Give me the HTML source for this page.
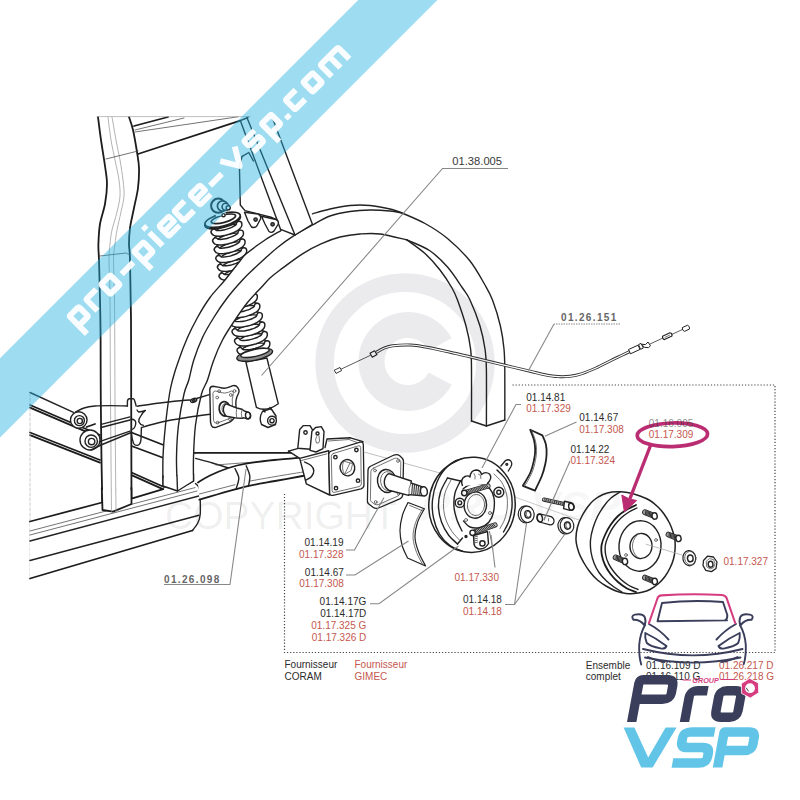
<!DOCTYPE html>
<html>
<head>
<meta charset="utf-8">
<title>01.17.309</title>
<style>
html,body{margin:0;padding:0;background:#fff;}
body{width:800px;height:800px;overflow:hidden;font-family:"Liberation Sans",sans-serif;}
svg{display:block;position:absolute;left:0;top:0;}
text{font-family:"Liberation Sans",sans-serif;}
.k{fill:#2b2b2b;font-size:10px;}
.r{fill:#c4574e;font-size:10px;}
.m{font-weight:bold;font-size:10px;fill:#666;letter-spacing:1.35px;}
.ln{fill:none;stroke:#222;stroke-width:1.4;stroke-linecap:round;stroke-linejoin:round;}
.lt{fill:none;stroke:#444;stroke-width:0.75;stroke-linecap:round;stroke-linejoin:round;}
.lb{fill:none;stroke:#1c1c1c;stroke-width:1.8;stroke-linecap:round;stroke-linejoin:round;}
.ld{fill:none;stroke:#888;stroke-width:1.1;}
.dot{fill:none;stroke:#444;stroke-width:1.2;stroke-dasharray:1.2 1.9;}
.f{fill:#fff;stroke:none;}
.w{fill:#fff;stroke:#222;stroke-width:1.4;stroke-linejoin:round;}
</style>
</head>
<body>
<svg width="800" height="800" viewBox="0 0 800 800">
<rect width="800" height="800" fill="#fff"/>

<!-- DRAWING -->
<g id="drawing">
<path class="ln" d="M30.0 392.5L73.5 412.3"/>
<path class="lb" d="M30.0 405.0L100.0 435.0"/>
<path class="lb" d="M30.0 432.5L100.0 460.0"/>
<path class="lb" d="M30.0 407.6L100.0 437.6"/>
<path class="lb" d="M30.0 435.1L100.0 462.6"/>
<path class="lb" d="M131.5 432.5L166.0 446.0"/>
<path class="lb" d="M131.5 446.0L165.0 458.5"/>
<path class="lb" d="M131.5 472.5L164.0 487.0"/>
<path class="lb" d="M131.5 475.1L164.0 489.6"/>
<path class="lt" d="M30.0 393.0L30.0 578.0" style="stroke:#bbb;stroke-dasharray:3 2"/>
<path class="ln" d="M193.5 452.5L200.0 455.0"/>
<path class="ln" d="M98.0 117.0C98.5 120.8 99.8 131.8 101.0 140.0C102.2 148.2 104.0 158.7 105.0 166.0C106.0 173.3 107.0 177.7 107.0 184.0C107.0 190.3 106.2 197.3 105.0 204.0C103.8 210.7 101.1 217.3 100.0 224.0C98.9 230.7 98.6 238.0 98.4 244.0C98.2 250.0 98.7 250.7 99.0 260.0C99.3 269.3 99.7 286.7 100.0 300.0C100.3 313.3 100.5 323.3 100.6 340.0C100.7 356.7 100.6 380.0 100.8 400.0C101.0 420.0 101.2 441.7 101.5 460.0C101.8 478.3 102.3 501.7 102.5 510.0L131.5 504.0C131.5 498.3 131.5 487.3 131.4 470.0C131.3 452.7 131.3 425.0 131.2 400.0C131.1 375.0 131.2 343.3 131.0 320.0C130.8 296.7 130.3 272.7 130.0 260.0C129.7 247.3 129.0 249.3 129.0 244.0C129.0 238.7 129.2 234.0 130.0 228.0C130.8 222.0 132.7 214.7 134.0 208.0C135.3 201.3 137.2 194.7 138.0 188.0C138.8 181.3 139.2 174.0 139.0 168.0C138.8 162.0 138.0 158.3 137.0 152.0C136.0 145.7 134.3 135.8 133.0 130.0C131.7 124.2 129.7 119.2 129.0 117.0Z" style="fill:#fff;stroke:none"/>
<path class="lb" d="M98.0 117.0C98.5 120.8 99.8 131.8 101.0 140.0C102.2 148.2 104.0 158.7 105.0 166.0C106.0 173.3 107.0 177.7 107.0 184.0C107.0 190.3 106.2 197.3 105.0 204.0C103.8 210.7 101.1 217.3 100.0 224.0C98.9 230.7 98.6 238.0 98.4 244.0C98.2 250.0 98.7 250.7 99.0 260.0C99.3 269.3 99.7 286.7 100.0 300.0C100.3 313.3 100.5 323.3 100.6 340.0C100.7 356.7 100.6 380.0 100.8 400.0C101.0 420.0 101.2 441.7 101.5 460.0C101.8 478.3 102.3 501.7 102.5 510.0"/>
<path class="lb" d="M129.0 117.0C129.7 119.2 131.7 124.2 133.0 130.0C134.3 135.8 136.0 145.7 137.0 152.0C138.0 158.3 138.8 162.0 139.0 168.0C139.2 174.0 138.8 181.3 138.0 188.0C137.2 194.7 135.3 201.3 134.0 208.0C132.7 214.7 130.8 222.0 130.0 228.0C129.2 234.0 129.0 238.7 129.0 244.0C129.0 249.3 129.7 247.3 130.0 260.0C130.3 272.7 130.8 296.7 131.0 320.0C131.2 343.3 131.1 375.0 131.2 400.0C131.3 425.0 131.3 452.7 131.4 470.0C131.5 487.3 131.5 498.3 131.5 504.0"/>
<path class="lt" d="M108.0 117.0C108.5 120.8 109.8 132.8 111.0 140.0C112.2 147.2 113.7 153.3 115.0 160.0C116.3 166.7 118.2 174.0 119.0 180.0C119.8 186.0 120.3 190.7 120.0 196.0C119.7 201.3 118.3 206.3 117.0 212.0C115.7 217.7 113.2 224.7 112.0 230.0C110.8 235.3 110.5 239.0 110.0 244.0C109.5 249.0 109.0 250.7 109.0 260.0C109.0 269.3 109.8 276.7 110.0 300.0C110.2 323.3 110.2 364.7 110.5 400.0C110.8 435.3 111.3 493.3 111.5 512.0" style="stroke:#999"/>
<path class="lt" d="M112.0 117.0C112.7 120.8 114.7 132.8 116.0 140.0C117.3 147.2 118.8 153.3 120.0 160.0C121.2 166.7 122.3 174.0 123.0 180.0C123.7 186.0 124.3 190.7 124.0 196.0C123.7 201.3 122.2 206.3 121.0 212.0C119.8 217.7 118.0 224.7 117.0 230.0C116.0 235.3 115.6 239.0 115.0 244.0C114.4 249.0 113.6 250.7 113.5 260.0C113.4 269.3 114.2 276.7 114.5 300.0C114.8 323.3 114.8 364.8 115.0 400.0C115.2 435.2 115.8 492.5 116.0 511.0" style="stroke:#999"/>
<path class="lt" d="M106.0 159.0L138.0 151.0"/>
<path class="lt" d="M100.0 256.0L126.0 253.0L130.0 255.0"/>
<path class="ln" d="M102.5 510.0L113.0 511.6L131.5 504.0"/>
<path class="lb" d="M134.0 126.0L168.0 117.0"/>
<path class="lt" d="M135.0 132.0L238.0 116.8"/>
<path class="lt" d="M135.0 130.0L184.0 118.0"/>
<path class="lb" d="M138.0 154.0L240.3 120.6"/>
<path class="lt" d="M97.0 116.6L250.0 116.6" style="stroke:#aaa"/>
<path d="M213.9 231.9C213.9 231.7 213.8 231.1 214.0 230.7C214.2 230.3 214.5 229.9 215.0 229.4C215.4 229.0 216.0 228.5 216.7 228.0C217.4 227.6 218.3 227.1 219.2 226.6C220.1 226.2 221.1 225.7 222.1 225.3C223.1 224.9 224.2 224.5 225.3 224.2C226.4 223.8 227.6 223.5 228.6 223.3C229.7 223.1 230.8 222.9 231.8 222.8C232.8 222.6 233.8 222.6 234.6 222.6C235.4 222.6 236.2 222.6 236.8 222.7C237.5 222.9 238.0 223.0 238.4 223.3C238.8 223.5 239.0 224.0 239.1 224.1" fill="none" stroke="#222" stroke-width="4.8" stroke-linecap="round"/><path d="M213.9 231.9C213.9 231.7 213.8 231.1 214.0 230.7C214.2 230.3 214.5 229.9 215.0 229.4C215.4 229.0 216.0 228.5 216.7 228.0C217.4 227.6 218.3 227.1 219.2 226.6C220.1 226.2 221.1 225.7 222.1 225.3C223.1 224.9 224.2 224.5 225.3 224.2C226.4 223.8 227.6 223.5 228.6 223.3C229.7 223.1 230.8 222.9 231.8 222.8C232.8 222.6 233.8 222.6 234.6 222.6C235.4 222.6 236.2 222.6 236.8 222.7C237.5 222.9 238.0 223.0 238.4 223.3C238.8 223.5 239.0 224.0 239.1 224.1" fill="none" stroke="#fff" stroke-width="2" stroke-linecap="round"/>
<path d="M215.5 240.7C215.5 240.5 215.4 239.9 215.6 239.5C215.8 239.1 216.1 238.7 216.6 238.2C217.0 237.8 217.6 237.3 218.3 236.8C219.0 236.4 219.9 235.9 220.8 235.4C221.7 235.0 222.7 234.5 223.7 234.1C224.7 233.7 225.8 233.3 226.9 233.0C228.0 232.6 229.2 232.3 230.2 232.1C231.3 231.9 232.4 231.7 233.4 231.6C234.4 231.4 235.4 231.4 236.2 231.4C237.0 231.4 237.8 231.4 238.4 231.5C239.1 231.7 239.6 231.8 240.0 232.1C240.4 232.3 240.6 232.8 240.7 232.9" fill="none" stroke="#222" stroke-width="4.8" stroke-linecap="round"/><path d="M215.5 240.7C215.5 240.5 215.4 239.9 215.6 239.5C215.8 239.1 216.1 238.7 216.6 238.2C217.0 237.8 217.6 237.3 218.3 236.8C219.0 236.4 219.9 235.9 220.8 235.4C221.7 235.0 222.7 234.5 223.7 234.1C224.7 233.7 225.8 233.3 226.9 233.0C228.0 232.6 229.2 232.3 230.2 232.1C231.3 231.9 232.4 231.7 233.4 231.6C234.4 231.4 235.4 231.4 236.2 231.4C237.0 231.4 237.8 231.4 238.4 231.5C239.1 231.7 239.6 231.8 240.0 232.1C240.4 232.3 240.6 232.8 240.7 232.9" fill="none" stroke="#fff" stroke-width="2" stroke-linecap="round"/>
<path d="M217.1 249.5C217.1 249.3 217.0 248.7 217.2 248.3C217.4 247.9 217.7 247.5 218.2 247.0C218.6 246.6 219.2 246.1 219.9 245.6C220.6 245.2 221.5 244.7 222.4 244.2C223.3 243.8 224.3 243.3 225.3 242.9C226.3 242.5 227.4 242.1 228.5 241.8C229.6 241.4 230.8 241.1 231.8 240.9C232.9 240.7 234.0 240.5 235.0 240.4C236.0 240.2 237.0 240.2 237.8 240.2C238.6 240.2 239.4 240.2 240.0 240.3C240.7 240.5 241.2 240.6 241.6 240.9C242.0 241.1 242.2 241.6 242.3 241.7" fill="none" stroke="#222" stroke-width="4.8" stroke-linecap="round"/><path d="M217.1 249.5C217.1 249.3 217.0 248.7 217.2 248.3C217.4 247.9 217.7 247.5 218.2 247.0C218.6 246.6 219.2 246.1 219.9 245.6C220.6 245.2 221.5 244.7 222.4 244.2C223.3 243.8 224.3 243.3 225.3 242.9C226.3 242.5 227.4 242.1 228.5 241.8C229.6 241.4 230.8 241.1 231.8 240.9C232.9 240.7 234.0 240.5 235.0 240.4C236.0 240.2 237.0 240.2 237.8 240.2C238.6 240.2 239.4 240.2 240.0 240.3C240.7 240.5 241.2 240.6 241.6 240.9C242.0 241.1 242.2 241.6 242.3 241.7" fill="none" stroke="#fff" stroke-width="2" stroke-linecap="round"/>
<path d="M218.7 258.3C218.7 258.1 218.6 257.5 218.8 257.1C219.0 256.7 219.3 256.3 219.8 255.8C220.2 255.4 220.8 254.9 221.5 254.4C222.2 254.0 223.1 253.5 224.0 253.0C224.9 252.6 225.9 252.1 226.9 251.7C227.9 251.3 229.0 250.9 230.1 250.6C231.2 250.2 232.4 249.9 233.4 249.7C234.5 249.5 235.6 249.3 236.6 249.2C237.6 249.0 238.6 249.0 239.4 249.0C240.2 249.0 241.0 249.0 241.6 249.1C242.3 249.3 242.8 249.4 243.2 249.7C243.6 249.9 243.8 250.4 243.9 250.5" fill="none" stroke="#222" stroke-width="4.8" stroke-linecap="round"/><path d="M218.7 258.3C218.7 258.1 218.6 257.5 218.8 257.1C219.0 256.7 219.3 256.3 219.8 255.8C220.2 255.4 220.8 254.9 221.5 254.4C222.2 254.0 223.1 253.5 224.0 253.0C224.9 252.6 225.9 252.1 226.9 251.7C227.9 251.3 229.0 250.9 230.1 250.6C231.2 250.2 232.4 249.9 233.4 249.7C234.5 249.5 235.6 249.3 236.6 249.2C237.6 249.0 238.6 249.0 239.4 249.0C240.2 249.0 241.0 249.0 241.6 249.1C242.3 249.3 242.8 249.4 243.2 249.7C243.6 249.9 243.8 250.4 243.9 250.5" fill="none" stroke="#fff" stroke-width="2" stroke-linecap="round"/>
<path d="M220.3 267.1C220.3 266.9 220.2 266.3 220.4 265.9C220.6 265.5 220.9 265.1 221.4 264.6C221.8 264.2 222.4 263.7 223.1 263.2C223.8 262.8 224.7 262.3 225.6 261.8C226.5 261.4 227.5 260.9 228.5 260.5C229.5 260.1 230.6 259.7 231.7 259.4C232.8 259.0 234.0 258.7 235.0 258.5C236.1 258.3 237.2 258.1 238.2 258.0C239.2 257.8 240.2 257.8 241.0 257.8C241.8 257.8 242.6 257.8 243.2 257.9C243.9 258.1 244.4 258.2 244.8 258.5C245.2 258.7 245.4 259.2 245.5 259.3" fill="none" stroke="#222" stroke-width="4.8" stroke-linecap="round"/><path d="M220.3 267.1C220.3 266.9 220.2 266.3 220.4 265.9C220.6 265.5 220.9 265.1 221.4 264.6C221.8 264.2 222.4 263.7 223.1 263.2C223.8 262.8 224.7 262.3 225.6 261.8C226.5 261.4 227.5 260.9 228.5 260.5C229.5 260.1 230.6 259.7 231.7 259.4C232.8 259.0 234.0 258.7 235.0 258.5C236.1 258.3 237.2 258.1 238.2 258.0C239.2 257.8 240.2 257.8 241.0 257.8C241.8 257.8 242.6 257.8 243.2 257.9C243.9 258.1 244.4 258.2 244.8 258.5C245.2 258.7 245.4 259.2 245.5 259.3" fill="none" stroke="#fff" stroke-width="2" stroke-linecap="round"/>
<path d="M221.9 275.9C221.9 275.7 221.8 275.1 222.0 274.7C222.2 274.3 222.5 273.9 223.0 273.4C223.4 273.0 224.0 272.5 224.7 272.0C225.4 271.6 226.3 271.1 227.2 270.6C228.1 270.2 229.1 269.7 230.1 269.3C231.1 268.9 232.2 268.5 233.3 268.2C234.4 267.8 235.6 267.5 236.6 267.3C237.7 267.1 238.8 266.9 239.8 266.8C240.8 266.6 241.8 266.6 242.6 266.6C243.4 266.6 244.2 266.6 244.8 266.7C245.5 266.9 246.0 267.0 246.4 267.3C246.8 267.5 247.0 268.0 247.1 268.1" fill="none" stroke="#222" stroke-width="4.8" stroke-linecap="round"/><path d="M221.9 275.9C221.9 275.7 221.8 275.1 222.0 274.7C222.2 274.3 222.5 273.9 223.0 273.4C223.4 273.0 224.0 272.5 224.7 272.0C225.4 271.6 226.3 271.1 227.2 270.6C228.1 270.2 229.1 269.7 230.1 269.3C231.1 268.9 232.2 268.5 233.3 268.2C234.4 267.8 235.6 267.5 236.6 267.3C237.7 267.1 238.8 266.9 239.8 266.8C240.8 266.6 241.8 266.6 242.6 266.6C243.4 266.6 244.2 266.6 244.8 266.7C245.5 266.9 246.0 267.0 246.4 267.3C246.8 267.5 247.0 268.0 247.1 268.1" fill="none" stroke="#fff" stroke-width="2" stroke-linecap="round"/>
<path d="M239.1 224.1C239.1 224.3 239.2 224.9 239.0 225.3C238.8 225.7 238.5 226.1 238.0 226.6C237.6 227.0 237.0 227.5 236.3 228.0C235.6 228.4 234.7 228.9 233.8 229.4C232.9 229.8 231.9 230.3 230.9 230.7C229.9 231.1 228.8 231.5 227.7 231.8C226.6 232.2 225.4 232.5 224.4 232.7C223.3 232.9 222.2 233.1 221.2 233.2C220.2 233.4 219.2 233.4 218.4 233.4C217.6 233.4 216.8 233.4 216.2 233.3C215.5 233.1 215.0 233.0 214.6 232.7C214.2 232.5 214.0 232.0 213.9 231.9" fill="none" stroke="#222" stroke-width="7" stroke-linecap="round"/><path d="M239.1 224.1C239.1 224.3 239.2 224.9 239.0 225.3C238.8 225.7 238.5 226.1 238.0 226.6C237.6 227.0 237.0 227.5 236.3 228.0C235.6 228.4 234.7 228.9 233.8 229.4C232.9 229.8 231.9 230.3 230.9 230.7C229.9 231.1 228.8 231.5 227.7 231.8C226.6 232.2 225.4 232.5 224.4 232.7C223.3 232.9 222.2 233.1 221.2 233.2C220.2 233.4 219.2 233.4 218.4 233.4C217.6 233.4 216.8 233.4 216.2 233.3C215.5 233.1 215.0 233.0 214.6 232.7C214.2 232.5 214.0 232.0 213.9 231.9" fill="none" stroke="#fff" stroke-width="4.1" stroke-linecap="round"/>
<path d="M240.7 232.9C240.7 233.1 240.8 233.7 240.6 234.1C240.4 234.5 240.1 234.9 239.6 235.4C239.2 235.8 238.6 236.3 237.9 236.8C237.2 237.2 236.3 237.7 235.4 238.2C234.5 238.6 233.5 239.1 232.5 239.5C231.5 239.9 230.4 240.3 229.3 240.6C228.2 241.0 227.0 241.3 226.0 241.5C224.9 241.7 223.8 241.9 222.8 242.0C221.8 242.2 220.8 242.2 220.0 242.2C219.2 242.2 218.4 242.2 217.8 242.1C217.1 241.9 216.6 241.8 216.2 241.5C215.8 241.3 215.6 240.8 215.5 240.7" fill="none" stroke="#222" stroke-width="7" stroke-linecap="round"/><path d="M240.7 232.9C240.7 233.1 240.8 233.7 240.6 234.1C240.4 234.5 240.1 234.9 239.6 235.4C239.2 235.8 238.6 236.3 237.9 236.8C237.2 237.2 236.3 237.7 235.4 238.2C234.5 238.6 233.5 239.1 232.5 239.5C231.5 239.9 230.4 240.3 229.3 240.6C228.2 241.0 227.0 241.3 226.0 241.5C224.9 241.7 223.8 241.9 222.8 242.0C221.8 242.2 220.8 242.2 220.0 242.2C219.2 242.2 218.4 242.2 217.8 242.1C217.1 241.9 216.6 241.8 216.2 241.5C215.8 241.3 215.6 240.8 215.5 240.7" fill="none" stroke="#fff" stroke-width="4.1" stroke-linecap="round"/>
<path d="M242.3 241.7C242.3 241.9 242.4 242.5 242.2 242.9C242.0 243.3 241.7 243.7 241.2 244.2C240.8 244.6 240.2 245.1 239.5 245.6C238.8 246.0 237.9 246.5 237.0 247.0C236.1 247.4 235.1 247.9 234.1 248.3C233.1 248.7 232.0 249.1 230.9 249.4C229.8 249.8 228.6 250.1 227.6 250.3C226.5 250.5 225.4 250.7 224.4 250.8C223.4 251.0 222.4 251.0 221.6 251.0C220.8 251.0 220.0 251.0 219.4 250.9C218.7 250.7 218.2 250.6 217.8 250.3C217.4 250.1 217.2 249.6 217.1 249.5" fill="none" stroke="#222" stroke-width="7" stroke-linecap="round"/><path d="M242.3 241.7C242.3 241.9 242.4 242.5 242.2 242.9C242.0 243.3 241.7 243.7 241.2 244.2C240.8 244.6 240.2 245.1 239.5 245.6C238.8 246.0 237.9 246.5 237.0 247.0C236.1 247.4 235.1 247.9 234.1 248.3C233.1 248.7 232.0 249.1 230.9 249.4C229.8 249.8 228.6 250.1 227.6 250.3C226.5 250.5 225.4 250.7 224.4 250.8C223.4 251.0 222.4 251.0 221.6 251.0C220.8 251.0 220.0 251.0 219.4 250.9C218.7 250.7 218.2 250.6 217.8 250.3C217.4 250.1 217.2 249.6 217.1 249.5" fill="none" stroke="#fff" stroke-width="4.1" stroke-linecap="round"/>
<path d="M243.9 250.5C243.9 250.7 244.0 251.3 243.8 251.7C243.6 252.1 243.3 252.5 242.8 253.0C242.4 253.4 241.8 253.9 241.1 254.4C240.4 254.8 239.5 255.3 238.6 255.8C237.7 256.2 236.7 256.7 235.7 257.1C234.7 257.5 233.6 257.9 232.5 258.2C231.4 258.6 230.2 258.9 229.2 259.1C228.1 259.3 227.0 259.5 226.0 259.6C225.0 259.8 224.0 259.8 223.2 259.8C222.4 259.8 221.6 259.8 221.0 259.7C220.3 259.5 219.8 259.4 219.4 259.1C219.0 258.9 218.8 258.4 218.7 258.3" fill="none" stroke="#222" stroke-width="7" stroke-linecap="round"/><path d="M243.9 250.5C243.9 250.7 244.0 251.3 243.8 251.7C243.6 252.1 243.3 252.5 242.8 253.0C242.4 253.4 241.8 253.9 241.1 254.4C240.4 254.8 239.5 255.3 238.6 255.8C237.7 256.2 236.7 256.7 235.7 257.1C234.7 257.5 233.6 257.9 232.5 258.2C231.4 258.6 230.2 258.9 229.2 259.1C228.1 259.3 227.0 259.5 226.0 259.6C225.0 259.8 224.0 259.8 223.2 259.8C222.4 259.8 221.6 259.8 221.0 259.7C220.3 259.5 219.8 259.4 219.4 259.1C219.0 258.9 218.8 258.4 218.7 258.3" fill="none" stroke="#fff" stroke-width="4.1" stroke-linecap="round"/>
<path d="M245.5 259.3C245.5 259.5 245.6 260.1 245.4 260.5C245.2 260.9 244.9 261.3 244.4 261.8C244.0 262.2 243.4 262.7 242.7 263.2C242.0 263.6 241.1 264.1 240.2 264.6C239.3 265.0 238.3 265.5 237.3 265.9C236.3 266.3 235.2 266.7 234.1 267.0C233.0 267.4 231.8 267.7 230.8 267.9C229.7 268.1 228.6 268.3 227.6 268.4C226.6 268.6 225.6 268.6 224.8 268.6C224.0 268.6 223.2 268.6 222.6 268.5C221.9 268.3 221.4 268.2 221.0 267.9C220.6 267.7 220.4 267.2 220.3 267.1" fill="none" stroke="#222" stroke-width="7" stroke-linecap="round"/><path d="M245.5 259.3C245.5 259.5 245.6 260.1 245.4 260.5C245.2 260.9 244.9 261.3 244.4 261.8C244.0 262.2 243.4 262.7 242.7 263.2C242.0 263.6 241.1 264.1 240.2 264.6C239.3 265.0 238.3 265.5 237.3 265.9C236.3 266.3 235.2 266.7 234.1 267.0C233.0 267.4 231.8 267.7 230.8 267.9C229.7 268.1 228.6 268.3 227.6 268.4C226.6 268.6 225.6 268.6 224.8 268.6C224.0 268.6 223.2 268.6 222.6 268.5C221.9 268.3 221.4 268.2 221.0 267.9C220.6 267.7 220.4 267.2 220.3 267.1" fill="none" stroke="#fff" stroke-width="4.1" stroke-linecap="round"/>
<path d="M247.1 268.1C247.1 268.3 247.2 268.9 247.0 269.3C246.8 269.7 246.5 270.1 246.0 270.6C245.6 271.0 245.0 271.5 244.3 272.0C243.6 272.4 242.7 272.9 241.8 273.4C240.9 273.8 239.9 274.3 238.9 274.7C237.9 275.1 236.8 275.5 235.7 275.8C234.6 276.2 233.4 276.5 232.4 276.7C231.3 276.9 230.2 277.1 229.2 277.2C228.2 277.4 227.2 277.4 226.4 277.4C225.6 277.4 224.8 277.4 224.2 277.3C223.5 277.1 223.0 277.0 222.6 276.7C222.2 276.5 222.0 276.0 221.9 275.9" fill="none" stroke="#222" stroke-width="7" stroke-linecap="round"/><path d="M247.1 268.1C247.1 268.3 247.2 268.9 247.0 269.3C246.8 269.7 246.5 270.1 246.0 270.6C245.6 271.0 245.0 271.5 244.3 272.0C243.6 272.4 242.7 272.9 241.8 273.4C240.9 273.8 239.9 274.3 238.9 274.7C237.9 275.1 236.8 275.5 235.7 275.8C234.6 276.2 233.4 276.5 232.4 276.7C231.3 276.9 230.2 277.1 229.2 277.2C228.2 277.4 227.2 277.4 226.4 277.4C225.6 277.4 224.8 277.4 224.2 277.3C223.5 277.1 223.0 277.0 222.6 276.7C222.2 276.5 222.0 276.0 221.9 275.9" fill="none" stroke="#fff" stroke-width="4.1" stroke-linecap="round"/>
<ellipse class="w" cx="222.6" cy="221" rx="18.2" ry="6.3" transform="rotate(-15 222.6 221)" style="stroke-width:2"/>
<ellipse class="w" cx="222.6" cy="219.8" rx="18.2" ry="6.2" transform="rotate(-15 222.6 219.8)" style="stroke-width:1.7"/>
<ellipse class="ln" cx="223.4" cy="218.8" rx="12.6" ry="3.7" transform="rotate(-15 223.4 218.8)" style="stroke-width:1.6"/>
<path class="w" d="M214.5 209 L216 216.5 L226 214.5 L224.5 209Z" style="stroke:none"/>
<circle class="w" cx="218.2" cy="205.7" r="7.1" style="stroke-width:2"/>
<circle class="w" cx="222.6" cy="206" r="5.2" style="stroke-width:1.7"/>
<circle class="w" cx="225.6" cy="206.8" r="3.5" style="stroke-width:1.6"/>
<circle class="w" cx="228.2" cy="207.8" r="2.1" style="stroke-width:1.4"/>
<circle class="w" cx="223.5" cy="215.2" r="1.6"/>
<path d="M227.4 303.4C227.4 303.2 227.4 302.6 227.6 302.1C227.8 301.7 228.2 301.2 228.7 300.7C229.2 300.2 229.8 299.7 230.6 299.2C231.4 298.8 232.3 298.3 233.2 297.8C234.2 297.4 235.3 296.9 236.4 296.6C237.5 296.2 238.7 295.8 239.9 295.5C241.1 295.2 242.3 295.0 243.4 294.8C244.6 294.6 245.8 294.5 246.8 294.4C247.9 294.4 248.9 294.4 249.8 294.4C250.7 294.5 251.5 294.6 252.2 294.8C252.9 295.0 253.4 295.3 253.8 295.6C254.2 295.9 254.5 296.4 254.6 296.6" fill="none" stroke="#222" stroke-width="4.8" stroke-linecap="round"/><path d="M227.4 303.4C227.4 303.2 227.4 302.6 227.6 302.1C227.8 301.7 228.2 301.2 228.7 300.7C229.2 300.2 229.8 299.7 230.6 299.2C231.4 298.8 232.3 298.3 233.2 297.8C234.2 297.4 235.3 296.9 236.4 296.6C237.5 296.2 238.7 295.8 239.9 295.5C241.1 295.2 242.3 295.0 243.4 294.8C244.6 294.6 245.8 294.5 246.8 294.4C247.9 294.4 248.9 294.4 249.8 294.4C250.7 294.5 251.5 294.6 252.2 294.8C252.9 295.0 253.4 295.3 253.8 295.6C254.2 295.9 254.5 296.4 254.6 296.6" fill="none" stroke="#fff" stroke-width="2" stroke-linecap="round"/>
<path d="M229.9 312.8C229.9 312.6 229.9 312.0 230.1 311.5C230.3 311.1 230.7 310.6 231.2 310.1C231.7 309.6 232.3 309.1 233.1 308.6C233.9 308.2 234.8 307.7 235.7 307.2C236.7 306.8 237.8 306.3 238.9 306.0C240.0 305.6 241.2 305.2 242.4 304.9C243.6 304.6 244.8 304.4 245.9 304.2C247.1 304.0 248.3 303.9 249.3 303.8C250.4 303.8 251.4 303.8 252.3 303.8C253.2 303.9 254.0 304.0 254.7 304.2C255.4 304.4 255.9 304.7 256.3 305.0C256.7 305.3 257.0 305.8 257.1 306.0" fill="none" stroke="#222" stroke-width="4.8" stroke-linecap="round"/><path d="M229.9 312.8C229.9 312.6 229.9 312.0 230.1 311.5C230.3 311.1 230.7 310.6 231.2 310.1C231.7 309.6 232.3 309.1 233.1 308.6C233.9 308.2 234.8 307.7 235.7 307.2C236.7 306.8 237.8 306.3 238.9 306.0C240.0 305.6 241.2 305.2 242.4 304.9C243.6 304.6 244.8 304.4 245.9 304.2C247.1 304.0 248.3 303.9 249.3 303.8C250.4 303.8 251.4 303.8 252.3 303.8C253.2 303.9 254.0 304.0 254.7 304.2C255.4 304.4 255.9 304.7 256.3 305.0C256.7 305.3 257.0 305.8 257.1 306.0" fill="none" stroke="#fff" stroke-width="2" stroke-linecap="round"/>
<path d="M232.4 322.2C232.4 322.0 232.4 321.4 232.6 320.9C232.8 320.5 233.2 320.0 233.7 319.5C234.2 319.0 234.8 318.5 235.6 318.0C236.4 317.6 237.3 317.1 238.2 316.6C239.2 316.2 240.3 315.7 241.4 315.4C242.5 315.0 243.7 314.6 244.9 314.3C246.1 314.0 247.3 313.8 248.4 313.6C249.6 313.4 250.8 313.3 251.8 313.2C252.9 313.2 253.9 313.2 254.8 313.2C255.7 313.3 256.5 313.4 257.2 313.6C257.9 313.8 258.4 314.1 258.8 314.4C259.2 314.7 259.5 315.2 259.6 315.4" fill="none" stroke="#222" stroke-width="4.8" stroke-linecap="round"/><path d="M232.4 322.2C232.4 322.0 232.4 321.4 232.6 320.9C232.8 320.5 233.2 320.0 233.7 319.5C234.2 319.0 234.8 318.5 235.6 318.0C236.4 317.6 237.3 317.1 238.2 316.6C239.2 316.2 240.3 315.7 241.4 315.4C242.5 315.0 243.7 314.6 244.9 314.3C246.1 314.0 247.3 313.8 248.4 313.6C249.6 313.4 250.8 313.3 251.8 313.2C252.9 313.2 253.9 313.2 254.8 313.2C255.7 313.3 256.5 313.4 257.2 313.6C257.9 313.8 258.4 314.1 258.8 314.4C259.2 314.7 259.5 315.2 259.6 315.4" fill="none" stroke="#fff" stroke-width="2" stroke-linecap="round"/>
<path d="M234.9 331.6C234.9 331.4 234.9 330.8 235.1 330.3C235.3 329.9 235.7 329.4 236.2 328.9C236.7 328.4 237.3 327.9 238.1 327.4C238.9 327.0 239.8 326.5 240.7 326.0C241.7 325.6 242.8 325.1 243.9 324.8C245.0 324.4 246.2 324.0 247.4 323.7C248.6 323.4 249.8 323.2 250.9 323.0C252.1 322.8 253.3 322.7 254.3 322.6C255.4 322.6 256.4 322.6 257.3 322.6C258.2 322.7 259.0 322.8 259.7 323.0C260.4 323.2 260.9 323.5 261.3 323.8C261.7 324.1 262.0 324.6 262.1 324.8" fill="none" stroke="#222" stroke-width="4.8" stroke-linecap="round"/><path d="M234.9 331.6C234.9 331.4 234.9 330.8 235.1 330.3C235.3 329.9 235.7 329.4 236.2 328.9C236.7 328.4 237.3 327.9 238.1 327.4C238.9 327.0 239.8 326.5 240.7 326.0C241.7 325.6 242.8 325.1 243.9 324.8C245.0 324.4 246.2 324.0 247.4 323.7C248.6 323.4 249.8 323.2 250.9 323.0C252.1 322.8 253.3 322.7 254.3 322.6C255.4 322.6 256.4 322.6 257.3 322.6C258.2 322.7 259.0 322.8 259.7 323.0C260.4 323.2 260.9 323.5 261.3 323.8C261.7 324.1 262.0 324.6 262.1 324.8" fill="none" stroke="#fff" stroke-width="2" stroke-linecap="round"/>
<path d="M237.4 341.0C237.4 340.8 237.4 340.2 237.6 339.7C237.8 339.3 238.2 338.8 238.7 338.3C239.2 337.8 239.8 337.3 240.6 336.8C241.4 336.4 242.3 335.9 243.2 335.4C244.2 335.0 245.3 334.5 246.4 334.2C247.5 333.8 248.7 333.4 249.9 333.1C251.1 332.8 252.3 332.6 253.4 332.4C254.6 332.2 255.8 332.1 256.8 332.0C257.9 332.0 258.9 332.0 259.8 332.0C260.7 332.1 261.5 332.2 262.2 332.4C262.9 332.6 263.4 332.9 263.8 333.2C264.2 333.5 264.5 334.0 264.6 334.2" fill="none" stroke="#222" stroke-width="4.8" stroke-linecap="round"/><path d="M237.4 341.0C237.4 340.8 237.4 340.2 237.6 339.7C237.8 339.3 238.2 338.8 238.7 338.3C239.2 337.8 239.8 337.3 240.6 336.8C241.4 336.4 242.3 335.9 243.2 335.4C244.2 335.0 245.3 334.5 246.4 334.2C247.5 333.8 248.7 333.4 249.9 333.1C251.1 332.8 252.3 332.6 253.4 332.4C254.6 332.2 255.8 332.1 256.8 332.0C257.9 332.0 258.9 332.0 259.8 332.0C260.7 332.1 261.5 332.2 262.2 332.4C262.9 332.6 263.4 332.9 263.8 333.2C264.2 333.5 264.5 334.0 264.6 334.2" fill="none" stroke="#fff" stroke-width="2" stroke-linecap="round"/>
<path d="M239.9 350.4C239.9 350.2 239.9 349.6 240.1 349.1C240.3 348.7 240.7 348.2 241.2 347.7C241.7 347.2 242.3 346.7 243.1 346.2C243.9 345.8 244.8 345.3 245.7 344.8C246.7 344.4 247.8 343.9 248.9 343.6C250.0 343.2 251.2 342.8 252.4 342.5C253.6 342.2 254.8 342.0 255.9 341.8C257.1 341.6 258.3 341.5 259.3 341.4C260.4 341.4 261.4 341.4 262.3 341.4C263.2 341.5 264.0 341.6 264.7 341.8C265.4 342.0 265.9 342.3 266.3 342.6C266.7 342.9 267.0 343.4 267.1 343.6" fill="none" stroke="#222" stroke-width="4.8" stroke-linecap="round"/><path d="M239.9 350.4C239.9 350.2 239.9 349.6 240.1 349.1C240.3 348.7 240.7 348.2 241.2 347.7C241.7 347.2 242.3 346.7 243.1 346.2C243.9 345.8 244.8 345.3 245.7 344.8C246.7 344.4 247.8 343.9 248.9 343.6C250.0 343.2 251.2 342.8 252.4 342.5C253.6 342.2 254.8 342.0 255.9 341.8C257.1 341.6 258.3 341.5 259.3 341.4C260.4 341.4 261.4 341.4 262.3 341.4C263.2 341.5 264.0 341.6 264.7 341.8C265.4 342.0 265.9 342.3 266.3 342.6C266.7 342.9 267.0 343.4 267.1 343.6" fill="none" stroke="#fff" stroke-width="2" stroke-linecap="round"/>
<path d="M254.6 296.6C254.6 296.8 254.6 297.4 254.4 297.9C254.2 298.3 253.8 298.8 253.3 299.3C252.8 299.8 252.2 300.3 251.4 300.8C250.6 301.2 249.7 301.7 248.8 302.2C247.8 302.6 246.7 303.1 245.6 303.4C244.5 303.8 243.3 304.2 242.1 304.5C240.9 304.8 239.7 305.0 238.6 305.2C237.4 305.4 236.2 305.5 235.2 305.6C234.1 305.6 233.1 305.6 232.2 305.6C231.3 305.5 230.5 305.4 229.8 305.2C229.1 305.0 228.6 304.7 228.2 304.4C227.8 304.1 227.5 303.6 227.4 303.4" fill="none" stroke="#222" stroke-width="7" stroke-linecap="round"/><path d="M254.6 296.6C254.6 296.8 254.6 297.4 254.4 297.9C254.2 298.3 253.8 298.8 253.3 299.3C252.8 299.8 252.2 300.3 251.4 300.8C250.6 301.2 249.7 301.7 248.8 302.2C247.8 302.6 246.7 303.1 245.6 303.4C244.5 303.8 243.3 304.2 242.1 304.5C240.9 304.8 239.7 305.0 238.6 305.2C237.4 305.4 236.2 305.5 235.2 305.6C234.1 305.6 233.1 305.6 232.2 305.6C231.3 305.5 230.5 305.4 229.8 305.2C229.1 305.0 228.6 304.7 228.2 304.4C227.8 304.1 227.5 303.6 227.4 303.4" fill="none" stroke="#fff" stroke-width="4.1" stroke-linecap="round"/>
<path d="M257.1 306.0C257.1 306.2 257.1 306.8 256.9 307.3C256.7 307.7 256.3 308.2 255.8 308.7C255.3 309.2 254.7 309.7 253.9 310.2C253.1 310.6 252.2 311.1 251.3 311.6C250.3 312.0 249.2 312.5 248.1 312.8C247.0 313.2 245.8 313.6 244.6 313.9C243.4 314.2 242.2 314.4 241.1 314.6C239.9 314.8 238.7 314.9 237.7 315.0C236.6 315.0 235.6 315.0 234.7 315.0C233.8 314.9 233.0 314.8 232.3 314.6C231.6 314.4 231.1 314.1 230.7 313.8C230.3 313.5 230.0 313.0 229.9 312.8" fill="none" stroke="#222" stroke-width="7" stroke-linecap="round"/><path d="M257.1 306.0C257.1 306.2 257.1 306.8 256.9 307.3C256.7 307.7 256.3 308.2 255.8 308.7C255.3 309.2 254.7 309.7 253.9 310.2C253.1 310.6 252.2 311.1 251.3 311.6C250.3 312.0 249.2 312.5 248.1 312.8C247.0 313.2 245.8 313.6 244.6 313.9C243.4 314.2 242.2 314.4 241.1 314.6C239.9 314.8 238.7 314.9 237.7 315.0C236.6 315.0 235.6 315.0 234.7 315.0C233.8 314.9 233.0 314.8 232.3 314.6C231.6 314.4 231.1 314.1 230.7 313.8C230.3 313.5 230.0 313.0 229.9 312.8" fill="none" stroke="#fff" stroke-width="4.1" stroke-linecap="round"/>
<path d="M259.6 315.4C259.6 315.6 259.6 316.2 259.4 316.7C259.2 317.1 258.8 317.6 258.3 318.1C257.8 318.6 257.2 319.1 256.4 319.6C255.6 320.0 254.7 320.5 253.8 321.0C252.8 321.4 251.7 321.9 250.6 322.2C249.5 322.6 248.3 323.0 247.1 323.3C245.9 323.6 244.7 323.8 243.6 324.0C242.4 324.2 241.2 324.3 240.2 324.4C239.1 324.4 238.1 324.4 237.2 324.4C236.3 324.3 235.5 324.2 234.8 324.0C234.1 323.8 233.6 323.5 233.2 323.2C232.8 322.9 232.5 322.4 232.4 322.2" fill="none" stroke="#222" stroke-width="7" stroke-linecap="round"/><path d="M259.6 315.4C259.6 315.6 259.6 316.2 259.4 316.7C259.2 317.1 258.8 317.6 258.3 318.1C257.8 318.6 257.2 319.1 256.4 319.6C255.6 320.0 254.7 320.5 253.8 321.0C252.8 321.4 251.7 321.9 250.6 322.2C249.5 322.6 248.3 323.0 247.1 323.3C245.9 323.6 244.7 323.8 243.6 324.0C242.4 324.2 241.2 324.3 240.2 324.4C239.1 324.4 238.1 324.4 237.2 324.4C236.3 324.3 235.5 324.2 234.8 324.0C234.1 323.8 233.6 323.5 233.2 323.2C232.8 322.9 232.5 322.4 232.4 322.2" fill="none" stroke="#fff" stroke-width="4.1" stroke-linecap="round"/>
<path d="M262.1 324.8C262.1 325.0 262.1 325.6 261.9 326.1C261.7 326.5 261.3 327.0 260.8 327.5C260.3 328.0 259.7 328.5 258.9 329.0C258.1 329.4 257.2 329.9 256.3 330.4C255.3 330.8 254.2 331.3 253.1 331.6C252.0 332.0 250.8 332.4 249.6 332.7C248.4 333.0 247.2 333.2 246.1 333.4C244.9 333.6 243.7 333.7 242.7 333.8C241.6 333.8 240.6 333.8 239.7 333.8C238.8 333.7 238.0 333.6 237.3 333.4C236.6 333.2 236.1 332.9 235.7 332.6C235.3 332.3 235.0 331.8 234.9 331.6" fill="none" stroke="#222" stroke-width="7" stroke-linecap="round"/><path d="M262.1 324.8C262.1 325.0 262.1 325.6 261.9 326.1C261.7 326.5 261.3 327.0 260.8 327.5C260.3 328.0 259.7 328.5 258.9 329.0C258.1 329.4 257.2 329.9 256.3 330.4C255.3 330.8 254.2 331.3 253.1 331.6C252.0 332.0 250.8 332.4 249.6 332.7C248.4 333.0 247.2 333.2 246.1 333.4C244.9 333.6 243.7 333.7 242.7 333.8C241.6 333.8 240.6 333.8 239.7 333.8C238.8 333.7 238.0 333.6 237.3 333.4C236.6 333.2 236.1 332.9 235.7 332.6C235.3 332.3 235.0 331.8 234.9 331.6" fill="none" stroke="#fff" stroke-width="4.1" stroke-linecap="round"/>
<path d="M264.6 334.2C264.6 334.4 264.6 335.0 264.4 335.5C264.2 335.9 263.8 336.4 263.3 336.9C262.8 337.4 262.2 337.9 261.4 338.4C260.6 338.8 259.7 339.3 258.8 339.8C257.8 340.2 256.7 340.7 255.6 341.0C254.5 341.4 253.3 341.8 252.1 342.1C250.9 342.4 249.7 342.6 248.6 342.8C247.4 343.0 246.2 343.1 245.2 343.2C244.1 343.2 243.1 343.2 242.2 343.2C241.3 343.1 240.5 343.0 239.8 342.8C239.1 342.6 238.6 342.3 238.2 342.0C237.8 341.7 237.5 341.2 237.4 341.0" fill="none" stroke="#222" stroke-width="7" stroke-linecap="round"/><path d="M264.6 334.2C264.6 334.4 264.6 335.0 264.4 335.5C264.2 335.9 263.8 336.4 263.3 336.9C262.8 337.4 262.2 337.9 261.4 338.4C260.6 338.8 259.7 339.3 258.8 339.8C257.8 340.2 256.7 340.7 255.6 341.0C254.5 341.4 253.3 341.8 252.1 342.1C250.9 342.4 249.7 342.6 248.6 342.8C247.4 343.0 246.2 343.1 245.2 343.2C244.1 343.2 243.1 343.2 242.2 343.2C241.3 343.1 240.5 343.0 239.8 342.8C239.1 342.6 238.6 342.3 238.2 342.0C237.8 341.7 237.5 341.2 237.4 341.0" fill="none" stroke="#fff" stroke-width="4.1" stroke-linecap="round"/>
<path d="M267.1 343.6C267.1 343.8 267.1 344.4 266.9 344.9C266.7 345.3 266.3 345.8 265.8 346.3C265.3 346.8 264.7 347.3 263.9 347.8C263.1 348.2 262.2 348.7 261.3 349.2C260.3 349.6 259.2 350.1 258.1 350.4C257.0 350.8 255.8 351.2 254.6 351.5C253.4 351.8 252.2 352.0 251.1 352.2C249.9 352.4 248.7 352.5 247.7 352.6C246.6 352.6 245.6 352.6 244.7 352.6C243.8 352.5 243.0 352.4 242.3 352.2C241.6 352.0 241.1 351.7 240.7 351.4C240.3 351.1 240.0 350.6 239.9 350.4" fill="none" stroke="#222" stroke-width="7" stroke-linecap="round"/><path d="M267.1 343.6C267.1 343.8 267.1 344.4 266.9 344.9C266.7 345.3 266.3 345.8 265.8 346.3C265.3 346.8 264.7 347.3 263.9 347.8C263.1 348.2 262.2 348.7 261.3 349.2C260.3 349.6 259.2 350.1 258.1 350.4C257.0 350.8 255.8 351.2 254.6 351.5C253.4 351.8 252.2 352.0 251.1 352.2C249.9 352.4 248.7 352.5 247.7 352.6C246.6 352.6 245.6 352.6 244.7 352.6C243.8 352.5 243.0 352.4 242.3 352.2C241.6 352.0 241.1 351.7 240.7 351.4C240.3 351.1 240.0 350.6 239.9 350.4" fill="none" stroke="#fff" stroke-width="4.1" stroke-linecap="round"/>
<path class="w" d="M245.9 362 L256.4 407.3 Q266 412.5 278.3 403.8 L266.9 358 Z"/>
<ellipse class="ln" cx="254.7" cy="354.8" rx="18.2" ry="5.4" transform="rotate(-12 254.7 354.8)" style="fill:#8e8e8e;stroke-width:1.4"/>
<ellipse class="ln" cx="255" cy="352.9" rx="14.6" ry="3.5" transform="rotate(-12 255 352.9)" style="fill:#fff"/>
<path class="w" d="M262.5 411.5 L271 408.5 L276 416 L275.5 424.5 L268 427.5 L261.5 424.5 Q258.5 418 262.5 411.5Z"/>
<circle class="w" cx="272" cy="420.7" r="4.4"/>
<circle class="ln" cx="272" cy="420.7" r="2.1"/>
<path class="ln" d="M263.0 409.5L265.0 412.0"/>
<path class="ln" d="M270.0 407.5L271.0 409.5"/>
<path class="ln" d="M163.0 486.0C163.0 481.2 162.6 467.2 163.0 457.0C163.4 446.8 164.4 435.5 165.5 425.0C166.6 414.5 168.3 401.5 169.5 394.0C170.7 386.5 171.0 385.7 172.5 380.0C174.0 374.3 176.2 367.1 178.8 360.0C181.2 352.9 184.4 344.6 187.5 337.5C190.6 330.4 193.8 324.2 197.5 317.5C201.2 310.8 205.4 303.8 210.0 297.5C214.6 291.2 220.0 286.1 225.0 280.0C230.0 273.9 236.5 265.3 240.0 261.0C243.5 256.7 241.8 257.5 246.0 254.0C250.2 250.5 259.2 243.9 265.0 240.0C270.8 236.1 278.3 232.2 281.0 230.6L312.5 213.8C315.4 213.0 323.8 210.4 330.0 209.0C336.2 207.6 343.3 206.1 350.0 205.5C356.7 204.9 363.3 204.9 370.0 205.5C376.7 206.1 385.1 207.9 390.0 209.0C394.9 210.1 393.7 209.6 399.5 212.0C405.3 214.4 417.0 219.1 425.0 223.5C433.0 227.9 440.0 232.2 447.5 238.5C455.0 244.8 463.8 253.2 470.0 261.0C476.2 268.8 481.2 278.5 485.0 285.0C488.8 291.5 489.9 293.2 492.5 300.0C495.1 306.8 498.5 317.8 500.4 326.0C502.3 334.2 503.3 341.7 504.0 349.0C504.7 356.3 504.7 358.2 504.8 370.0C504.9 381.8 504.8 411.7 504.8 420.0L486.4 426.0L471.5 421.0L471.5 421.0C471.5 412.5 471.6 382.0 471.5 370.0C471.4 358.0 471.5 356.3 470.6 349.0C469.7 341.7 468.2 334.2 466.0 326.0C463.8 317.8 459.8 306.3 457.5 300.0C455.2 293.7 454.9 293.0 452.0 288.0C449.1 283.0 444.5 275.8 440.0 270.0C435.5 264.2 430.5 258.5 425.0 253.5C419.5 248.5 410.0 242.2 407.0 240.0L407.0 240.0C402.5 239.0 387.8 235.0 380.0 234.0C372.2 233.0 366.7 233.5 360.0 234.0C353.3 234.5 346.5 235.4 340.0 237.0C333.5 238.6 327.2 241.0 321.0 243.8C314.8 246.5 309.3 249.4 302.5 253.8C295.7 258.1 285.4 266.0 280.0 270.0C274.6 274.0 273.3 274.9 270.0 278.0C266.7 281.1 263.8 284.7 260.0 288.8C256.2 292.8 251.7 297.3 247.5 302.5C243.3 307.7 239.2 313.8 235.0 320.0C230.8 326.2 226.0 333.3 222.5 340.0C219.0 346.7 216.2 353.3 213.8 360.0C211.2 366.7 209.5 374.3 207.5 380.0C205.5 385.7 203.5 386.5 201.5 394.0C199.5 401.5 196.8 414.5 195.5 425.0C194.2 435.5 193.8 447.7 193.5 457.0C193.2 466.3 193.5 477.0 193.5 481.0Z" style="fill:#fff;stroke:none"/>
<path class="ln" d="M163.0 486.0C163.0 481.2 162.6 467.2 163.0 457.0C163.4 446.8 164.4 435.5 165.5 425.0C166.6 414.5 168.3 401.5 169.5 394.0C170.7 386.5 171.0 385.7 172.5 380.0C174.0 374.3 176.2 367.1 178.8 360.0C181.2 352.9 184.4 344.6 187.5 337.5C190.6 330.4 193.8 324.2 197.5 317.5C201.2 310.8 205.4 303.8 210.0 297.5C214.6 291.2 220.0 286.1 225.0 280.0C230.0 273.9 236.5 265.3 240.0 261.0C243.5 256.7 241.8 257.5 246.0 254.0C250.2 250.5 259.2 243.9 265.0 240.0C270.8 236.1 278.3 232.2 281.0 230.6"/>
<path class="ln" d="M312.5 213.8C315.4 213.0 323.8 210.4 330.0 209.0C336.2 207.6 343.3 206.1 350.0 205.5C356.7 204.9 363.3 204.9 370.0 205.5C376.7 206.1 385.1 207.9 390.0 209.0C394.9 210.1 393.7 209.6 399.5 212.0C405.3 214.4 417.0 219.1 425.0 223.5C433.0 227.9 440.0 232.2 447.5 238.5C455.0 244.8 463.8 253.2 470.0 261.0C476.2 268.8 481.2 278.5 485.0 285.0C488.8 291.5 489.9 293.2 492.5 300.0C495.1 306.8 498.5 317.8 500.4 326.0C502.3 334.2 503.3 341.7 504.0 349.0C504.7 356.3 504.7 358.2 504.8 370.0C504.9 381.8 504.8 411.7 504.8 420.0"/>
<path class="ln" d="M177.5 491.0C177.3 485.3 176.3 468.0 176.5 457.0C176.7 446.0 177.2 435.5 178.5 425.0C179.8 414.5 182.3 401.5 184.0 394.0C185.7 386.5 187.1 385.7 188.8 380.0C190.4 374.3 191.5 367.1 193.8 360.0C196.0 352.9 199.2 344.6 202.5 337.5C205.8 330.4 209.6 324.2 213.8 317.5C217.9 310.8 222.7 303.8 227.5 297.5C232.3 291.2 238.3 284.6 242.5 280.0C246.7 275.4 246.7 275.4 252.5 270.0C258.3 264.6 270.4 253.3 277.5 247.5C284.6 241.7 289.2 238.8 295.0 235.0C300.8 231.2 306.7 228.2 312.5 225.0C318.3 221.8 323.8 218.2 330.0 216.0C336.2 213.8 343.3 212.5 350.0 211.5C356.7 210.5 363.3 210.1 370.0 210.0C376.7 209.9 384.7 210.5 390.0 211.0C395.3 211.5 400.0 212.7 402.0 213.0"/>
<path class="ln" d="M193.5 481.0C193.5 477.0 193.2 466.3 193.5 457.0C193.8 447.7 194.2 435.5 195.5 425.0C196.8 414.5 199.5 401.5 201.5 394.0C203.5 386.5 205.5 385.7 207.5 380.0C209.5 374.3 211.2 366.7 213.8 360.0C216.2 353.3 219.0 346.7 222.5 340.0C226.0 333.3 230.8 326.2 235.0 320.0C239.2 313.8 243.3 307.7 247.5 302.5C251.7 297.3 256.2 292.8 260.0 288.8C263.8 284.7 266.7 281.1 270.0 278.0C273.3 274.9 274.6 274.0 280.0 270.0C285.4 266.0 295.7 258.1 302.5 253.8C309.3 249.4 314.8 246.5 321.0 243.8C327.2 241.0 333.5 238.6 340.0 237.0C346.5 235.4 353.3 234.5 360.0 234.0C366.7 233.5 372.2 233.0 380.0 234.0C387.8 235.0 402.5 239.0 407.0 240.0"/>
<path class="ln" d="M407.0 240.0C410.8 241.8 422.8 246.0 429.5 250.5C436.2 255.0 442.0 260.8 447.5 267.0C453.0 273.2 458.8 282.5 462.5 288.0C466.2 293.5 467.1 293.7 470.0 300.0C472.9 306.3 477.5 317.8 480.0 326.0C482.5 334.2 483.9 341.7 485.0 349.0C486.1 356.3 486.2 357.2 486.4 370.0C486.6 382.8 486.4 416.7 486.4 426.0"/>
<path class="ln" d="M407.0 240.0C410.0 242.2 419.5 248.5 425.0 253.5C430.5 258.5 435.5 264.2 440.0 270.0C444.5 275.8 449.1 283.0 452.0 288.0C454.9 293.0 455.2 293.7 457.5 300.0C459.8 306.3 463.8 317.8 466.0 326.0C468.2 334.2 469.7 341.7 470.6 349.0C471.5 356.3 471.4 358.0 471.5 370.0C471.6 382.0 471.5 412.5 471.5 421.0"/>
<path class="ln" d="M471.5 421.0L486.4 426.0L504.8 420.0"/>
<path class="ln" d="M163.0 486.0L177.5 491.0L193.5 481.0"/>
<path class="ln" d="M240.3 120.6 L248 117.3 L272 117.3 L312.5 224.4 L295 235 L280.6 229.4 Z" style="fill:#fff;stroke:none"/>
<path class="ln" d="M240.3 120.6L280.6 229.4L295.0 235.0L312.5 224.4L272.5 118.0"/>
<path class="ln" d="M240.3 120.6L248.0 117.5"/>
<path class="ln" d="M247.0 117.8L295.0 235.0"/>
<path class="ln" d="M242.2 156.3L248.8 152.5L253.4 161.0"/>
<path class="ln" d="M242.2 156.3L239.4 165.6L240.3 205.0L245.0 210.6L271.0 217.2L277.0 220.0"/>
<path class="w" d="M244.5 212.3 L258 214 Q261.5 215.5 260.5 219 L256.8 226 Q254.5 228.5 251.5 227 L248 221 Z"/>
<circle class="ln" cx="255.6" cy="219.6" r="1.7" style="fill:#666"/>
<path class="w" d="M261.5 216.3 L276 219.5 Q279.5 221 278 224.5 L274 231 Q271.5 233.5 269 231.5 L265 224 Z"/>
<circle class="ln" cx="272.6" cy="224.3" r="1.7" style="fill:#666"/>
<circle class="w" cx="78.75" cy="420" r="8.3"/>
<circle class="ln" cx="79.4" cy="420.6" r="5"/>
<circle class="ln" cx="79.8" cy="421" r="2.6"/>
<circle class="w" cx="90" cy="440" r="10"/>
<circle class="ln" cx="91.2" cy="441.2" r="6.2"/>
<circle class="ln" cx="91.6" cy="441.6" r="3.2"/>
<path class="ln" d="M75.5 412.0C76.9 411.3 80.8 409.0 84.0 408.0C87.2 407.0 90.7 406.4 95.0 406.0C99.3 405.6 104.6 405.6 110.0 405.6C115.4 405.6 124.5 405.9 127.4 406.0"/>
<path class="ln" d="M101.2 424.4L130.0 416.9"/>
<path class="ln" d="M101.0 427.5L130.0 420.0"/>
<path class="ln" d="M91.0 450.0L101.0 445.0L131.2 432.5"/>
<path class="ln" d="M99.5 441.6L130.0 431.2"/>
<path class="lb" d="M86.5 427.0L95.0 424.0"/>
<path class="ln" d="M127.4 406 L127.4 401.6 Q127.6 399 129.5 398.8 L133.1 398.6 Q134.2 398.8 134.6 400.5 L136.2 406"/>
<path class="ln" d="M137 410 Q138 411.6 138.8 412 Q142 411.8 145.4 410.4 Q142.5 412.6 141 415.6 Q138.6 418.8 138.8 421.7 Q140 424.6 143.4 425.4"/>
<path class="ln" d="M141.4 427.9 L141 439.2 Q140.6 444.6 137.5 445.4 Q134.8 445.6 133.6 443.5 Q132 439 131.4 434"/>
<path class="ln" d="M131 419 Q136.4 419.5 135.7 424 Q135 429 131.4 429.6"/>
<path class="ln" d="M137.5 406.2C141.2 405.7 152.9 403.9 160.0 403.0C167.1 402.1 175.0 401.3 180.0 400.8C185.0 400.3 188.3 400.1 190.0 400.0"/>
<ellipse class="ln" cx="193.7" cy="400.3" rx="3.2" ry="1.8" transform="rotate(-20 193.7 400.3)"/>
<ellipse class="ln" cx="193.7" cy="400.3" rx="1.4" ry="0.8" transform="rotate(-20 193.7 400.3)"/>
<path class="ln" d="M196.5 398.5L211.0 394.2"/>
<path class="ln" d="M141.5 427.5C142.9 427.1 145.2 426.2 150.0 425.0C154.8 423.8 163.3 421.6 170.0 420.3C176.7 419.0 183.0 418.1 190.0 417.0C197.0 415.9 208.3 414.5 212.0 414.0"/>
<path class="w" d="M209.8 389.5 Q210 386.4 213 386.2 L219.5 387.4 Q224.8 389.2 229 387.2 L233 385.6 Q236 385.2 237.6 387.4 L239 390 Q239.4 392 238.2 394 Q235.2 399.6 236 405.8 L234.6 416.5 Q234 419 231.8 420.6 L229.6 422.2 L216 427.4 Q212.4 428 211.4 425.4 L210.5 422 Z"/>
<path class="lt" d="M213 393 Q213.4 390.8 215.6 391 L221 392.6 Q225 393.8 228.6 392.2 L231.5 391 Q233.6 391 233.4 393.4 Q231.6 399 232.4 405 L231.4 415.5 Q231 417.6 229.2 418.6 L217 423.2 Q214 423.6 213.6 421 Z"/>
<circle class="lt" cx="219.1" cy="391.1" r="1.4"/>
<circle class="lt" cx="234.5" cy="391" r="1.4"/>
<circle class="lt" cx="230.8" cy="395" r="1.4"/>
<circle class="lt" cx="217.2" cy="397.5" r="1.4"/>
<circle class="lt" cx="230" cy="419.2" r="1.4"/>
<circle class="lt" cx="217.6" cy="422.6" r="1.4"/>
<ellipse class="ln" cx="224.6" cy="408.8" rx="5.4" ry="7.2" transform="rotate(-8 224.6 408.8)" style="stroke-width:1.8"/>
<ellipse class="lt" cx="225.6" cy="409" rx="3.6" ry="5.4" transform="rotate(-8 225.6 409)"/>
<path class="w" d="M226 403.9 L236.8 408 L242 409.2 L244.3 411 L248 412.1 Q250.8 413 250.6 415.8 Q250.2 419 247.2 418.9 L244.2 417.8 L242 418.2 L236.8 418.1 L226.5 416.2 Q223 413 223.4 408.6 Q224 404.8 226 403.9Z"/>
<ellipse class="ln" cx="248" cy="415.5" rx="2.5" ry="3.4" transform="rotate(-8 248 415.5)"/>
<path class="lt" d="M242 409.2 Q240.6 413.5 242 418.2"/>
<path class="lt" d="M236.8 408 Q235.4 413 236.8 418.1"/>
<path class="ln" d="M30 521.5 L102 502.5 L131.5 498.6 L163.5 489 L195.5 483.6 Q199 486 199.8 490 L200.2 514.5 Q199 523 192.5 530.5 L30 578.5 Z" style="fill:#fff;stroke:none"/>
<path class="lb" d="M30.0 521.5L102.0 502.5"/>
<path class="lb" d="M131.5 498.6L163.2 489.2"/>
<path class="lt" d="M30.0 531.0L195.0 487.6"/>
<path class="lt" d="M30.0 535.0L197.0 491.0"/>
<path class="ln" d="M30.0 541.0L198.7 496.0"/>
<path class="ln" d="M30.0 560.5L199.0 515.3"/>
<path class="lb" d="M30.0 578.5L192.5 530.5"/>
<path class="ln" d="M195.5 483.6C196.1 484.2 198.2 485.8 199.0 487.5C199.8 489.2 199.8 489.5 200.0 494.0C200.2 498.5 200.6 509.6 200.2 514.5C199.8 519.4 198.8 520.8 197.5 523.5C196.2 526.2 193.3 529.3 192.5 530.5"/>
<path class="f" d="M101.8 490 L102.5 510 L113 511.6 L131.5 504 L131.4 490 Z"/>
<path class="lb" d="M101.8 488.0L102.5 510.0L113.0 511.6L131.5 504.0L131.4 488.0"/>
<path class="lt" d="M111.3 490.0L111.5 511.2" style="stroke:#999"/>
<path class="lt" d="M115.8 490.0L116.0 511.0" style="stroke:#999"/>
<path class="f" d="M163 478 L163 486 L177.5 491 L193.5 481 L193.5 474 Z"/>
<path class="ln" d="M163.0 476.0L163.0 486.0L177.5 491.0L193.5 481.0L193.5 474.0"/>
<path class="ln" d="M177.0 476.0L177.5 491.0"/>
<path class="ln" d="M195.6 452.8 L296 452.8 L300 458 L246 463.2 L228.4 468 Q212 463 195.6 458.4 Z" style="fill:#fff;stroke:none"/>
<path class="lb" d="M195.6 452.8L296.0 452.8"/>
<path class="ln" d="M195.6 458.4C198.4 459.2 207.0 461.4 212.5 463.0C218.0 464.6 225.8 467.2 228.4 468.0"/>
<path class="lt" d="M216.0 465.0C219.3 464.7 229.4 463.9 236.0 463.4C242.6 462.9 248.3 462.6 255.6 462.0C262.9 461.4 272.6 460.5 280.0 459.8C287.4 459.1 296.7 458.1 300.0 457.8"/>
<path class="ln" d="M198.0 482.5C200.0 481.3 204.9 477.9 210.0 475.5C215.1 473.1 222.4 470.0 228.4 468.0C234.4 466.0 238.4 464.9 246.0 463.6C253.6 462.3 264.6 461.0 274.0 460.0C283.4 459.0 297.8 457.9 302.5 457.5L310.0 474.5C308.8 474.8 308.3 474.9 302.5 476.0C296.7 477.1 283.8 479.4 275.0 481.0C266.2 482.6 256.7 484.2 250.0 485.6C243.3 487.0 240.5 487.9 235.0 489.4C229.5 490.9 222.9 492.8 217.0 494.5C211.1 496.2 202.3 498.8 199.4 499.7Z" style="fill:#fff;stroke:none"/>
<path class="lb" d="M198.0 482.5C200.0 481.3 204.9 477.9 210.0 475.5C215.1 473.1 222.4 470.0 228.4 468.0C234.4 466.0 238.4 464.9 246.0 463.6C253.6 462.3 264.6 461.0 274.0 460.0C283.4 459.0 297.8 457.9 302.5 457.5"/>
<path class="lb" d="M199.4 499.7C202.3 498.8 211.1 496.2 217.0 494.5C222.9 492.8 229.5 490.9 235.0 489.4C240.5 487.9 243.3 487.0 250.0 485.6C256.7 484.2 266.2 482.6 275.0 481.0C283.8 479.4 296.7 477.1 302.5 476.0C308.3 474.9 308.8 474.8 310.0 474.5"/>
<path class="lt" d="M199.4 494.0L235.0 484.7"/>
<path class="lt" d="M250.0 481.0C254.2 480.3 265.7 478.2 275.0 476.6C284.3 475.0 300.8 472.4 306.0 471.5"/>
<path class="ln" d="M235.0 468.6C235.6 470.2 238.6 474.6 238.8 478.0C239.0 481.4 236.5 487.2 236.0 489.0"/>
<path class="ln" d="M246.2 465.8C246.8 467.5 249.4 472.6 249.8 476.0C250.2 479.4 248.7 484.3 248.5 486.0"/>
<path class="ln" d="M288.5 451.2 L299.7 458.4 L328.7 450.2 L362.9 441.7 L351.5 438 L325.5 438.4 Z" style="fill:#fff;stroke:none"/>
<path class="ln" d="M288.5 451.2L299.7 458.4"/>
<path class="ln" d="M288.5 451.2L297.5 448.6"/>
<path class="ln" d="M325.0 447.5L327.0 439.0L350.5 437.8L362.9 441.7"/>
<path class="lt" d="M328.5 441.0L349.0 439.5L357.0 442.5"/>
<path class="w" d="M297.8 448.3 L299.7 429.4 L303.4 425.6 L310 425.6 L312.8 430.3 L310.5 449.3 Z"/>
<circle class="ln" cx="305.5" cy="432.5" r="1.7"/>
<path class="w" d="M310 450.3 L311.9 431.3 L315.6 427.5 L321.3 426.6 L324 431.3 L323 448.6 L316 452 Z"/>
<circle class="ln" cx="317.5" cy="433.5" r="1.5"/>
<path class="lt" d="M316.5 436.5 Q314.5 440 316.5 443 Q319 444 319.5 441 L319 436"/>
<path class="w" d="M299.7 458.4 L328.7 450.8 L329.6 495 L306.3 483.8 Z"/>
<path class="lt" d="M301.5 460.5L327.0 453.8"/>
<path class="ln" d="M304.5 462.0C305.6 462.6 309.4 464.1 311.0 465.5C312.6 466.9 313.7 468.8 313.8 470.6C313.9 472.4 312.8 474.9 311.5 476.5C310.2 478.1 306.9 479.4 306.0 480.0"/>
<path class="w" d="M331.5 451 L360 442.2 Q363.2 441.6 363.3 444.5 L364 485 Q363.9 488 361 488.8 L333 495.4 Q329.8 495.8 329.7 493 L328.8 454.5 Q328.8 451.8 331.5 451 Z" style="stroke-width:1.3"/>
<path class="lt" d="M333.3 453.5 L358.5 445.8 Q360.6 445.4 360.7 447.5 L361.3 484 Q361.2 486 359 486.6 L334.3 492.4 Q332.2 492.7 332.1 490.6 L331.3 456.3 Q331.3 454.2 333.3 453.5 Z"/>
<circle class="ln" cx="335.4" cy="457.2" r="1.7"/>
<circle class="ln" cx="356.4" cy="450" r="1.7"/>
<circle class="ln" cx="358" cy="480.7" r="1.7"/>
<circle class="ln" cx="336" cy="488.2" r="1.7"/>
<ellipse class="ln" cx="347.4" cy="467.7" rx="7.3" ry="8.2" transform="rotate(-10 347.4 467.7)"/>
<path class="lt" d="M343.5 461.5 Q341 468 344.5 474.5 L351 470.5 L352.5 464 Z"/>
<path class="lt" d="M344.5 474.5L350.0 463.0"/>
<path class="lt" d="M364.0 452.0L430.0 470.3L470.0 481.0" style="stroke:#aaa"/>
<path class="w" d="M371 466 L394 455 Q397.5 454 400 456 L402.5 458.5 Q403.6 460 403.5 462 L402.8 494.5 Q402.6 497.5 399.8 498.8 L378.5 508 Q375.5 509 373 507.2 L368.5 503.8 Q367.3 502.6 367.4 500.5 L368 470 Q368.2 467.2 371 466 Z" style="stroke-width:1.3"/>
<path class="lt" d="M373.4 468.2 L394.6 458.3 Q397 457.6 398.7 459 L400.2 460.4 Q400.9 461.4 400.8 462.8 L400.2 492.8 Q400 495 398 496 L378.3 504.6 Q376 505.3 374.3 504 L371.2 501.6 Q370.3 500.7 370.4 499.2 L370.9 471.3 Q371 469.2 373.4 468.2 Z"/>
<circle class="lt" cx="375" cy="470.5" r="1.4"/>
<circle class="lt" cx="398" cy="461" r="1.4"/>
<circle class="lt" cx="398.6" cy="493.5" r="1.4"/>
<circle class="lt" cx="375.7" cy="502" r="1.4"/>
<ellipse class="ln" cx="386.8" cy="481" rx="9.3" ry="11.6" transform="rotate(-8 386.8 481)"/>
<ellipse class="lt" cx="387.8" cy="481.2" rx="7.2" ry="9.6" transform="rotate(-8 387.8 481.2)"/>
<path class="w" d="M388.8 473.6 L411.3 481 L411 483 L422.5 486.8 Q427.6 488.5 427.3 492.3 Q426.6 496.3 422.5 495.8 L409 494.6 L408.6 495.4 L388.8 490.2 Q384 487.5 384.3 481.5 Q385 475.5 388.8 473.6 Z"/>
<path class="lt" d="M411 483 Q408 488 409 494.6"/>
<path class="lt" d="M412.5 484.0L411.7 494.8" style="stroke:#333;stroke-width:1.1"/>
<path class="lt" d="M414.5 484.6L413.7 494.9" style="stroke:#333;stroke-width:1.1"/>
<path class="lt" d="M416.5 485.3L415.7 495.0" style="stroke:#333;stroke-width:1.1"/>
<path class="lt" d="M418.5 485.9L417.7 495.1" style="stroke:#333;stroke-width:1.1"/>
<path class="lt" d="M420.5 486.6L419.7 495.2" style="stroke:#333;stroke-width:1.1"/>
<path class="lt" d="M422.5 487.2L421.7 495.3" style="stroke:#333;stroke-width:1.1"/>
<ellipse class="w" cx="423.9" cy="491.3" rx="3.4" ry="4.6" transform="rotate(-8 423.9 491.3)"/>
<path class="lt" d="M470.0 481.0L646.0 544.0" style="stroke:#bbb"/>
<path class="w" d="M408.0 502.5C407.1 504.6 403.8 510.4 402.5 515.0C401.2 519.6 400.1 525.0 400.0 530.0C399.9 535.0 400.8 540.3 402.0 545.0C403.2 549.7 406.6 555.8 407.5 558.0L425.6 566.0C424.5 563.8 420.5 557.2 418.8 552.5C417.0 547.8 415.2 542.5 415.0 537.5C414.8 532.5 415.9 527.3 417.5 522.5C419.1 517.7 423.2 511.1 424.4 508.8Z" style="stroke-width:1.2"/>
<path class="lt" d="M422.3 509.2C421.2 511.4 417.2 517.8 415.6 522.5C414.1 527.2 412.8 532.5 413.0 537.5C413.2 542.5 414.9 547.9 416.6 552.5C418.3 557.1 421.9 562.9 423.0 565.0"/>
<path class="lt" d="M409.6 505.4L422.5 510.8"/>
<ellipse class="w" cx="472" cy="504.8" rx="43.2" ry="47.6" transform="rotate(4 472 504.8)" style="stroke-width:1.5"/>
<path class="ln" d="M462.0 458.5C459.5 459.9 451.2 463.1 447.0 467.0C442.8 470.9 439.4 476.5 437.0 482.0C434.6 487.5 433.1 494.0 432.5 500.0C431.9 506.0 432.3 512.3 433.5 518.0C434.7 523.7 436.8 529.4 439.5 534.0C442.2 538.6 446.2 542.7 450.0 545.5C453.8 548.3 460.0 550.1 462.0 551.0"/>
<path class="ln" d="M447.5 478.0C446.3 480.3 442.0 487.2 440.5 492.0C439.0 496.8 438.3 502.0 438.5 507.0C438.7 512.0 439.8 517.3 441.5 522.0C443.2 526.7 445.8 531.3 448.5 535.0C451.2 538.7 456.0 542.5 457.5 544.0"/>
<path class="lt" d="M451.0 480.0C450.0 482.2 446.2 488.5 445.0 493.0C443.8 497.5 443.3 502.5 443.5 507.0C443.7 511.5 444.6 515.9 446.0 520.0C447.4 524.1 449.8 528.2 452.0 531.5C454.2 534.8 458.2 538.6 459.5 540.0"/>
<path class="ln" d="M447.5 478.0L460.5 481.0"/>
<path class="ln" d="M457.5 544.0L462.5 538.0"/>
<path class="ln" d="M460.6 480.6C459.7 482.7 456.1 488.6 455.0 493.0C453.9 497.4 453.7 502.5 454.0 507.0C454.3 511.5 455.7 516.0 457.0 520.0C458.3 524.0 461.2 529.2 462.0 531.0"/>
<path class="ln" d="M497.0 470.0C498.4 471.5 503.2 475.3 505.5 479.0C507.8 482.7 509.9 487.3 511.0 492.0C512.1 496.7 512.3 502.2 512.0 507.0C511.7 511.8 510.4 516.8 509.0 521.0C507.6 525.2 504.4 530.2 503.5 532.0"/>
<path class="lt" d="M494.0 474.0C495.2 475.3 499.4 478.7 501.5 482.0C503.6 485.3 505.5 489.8 506.5 494.0C507.5 498.2 507.6 502.8 507.3 507.0C507.0 511.2 506.0 515.4 504.8 519.0C503.6 522.6 500.8 526.9 500.0 528.5"/>
<ellipse class="ln" cx="475.3" cy="505" rx="11.2" ry="13.2" transform="rotate(5 475.3 505)"/>
<ellipse class="lt" cx="476" cy="505" rx="8.6" ry="10.6" transform="rotate(5 476 505)"/>
<path class="ln" d="M463.0 489.0C464.2 488.2 466.8 485.3 470.0 484.5C473.2 483.7 478.7 483.2 482.0 484.0C485.3 484.8 488.0 486.7 490.0 489.0C492.0 491.3 493.4 494.2 494.0 498.0C494.6 501.8 494.3 508.0 493.5 512.0C492.7 516.0 491.2 519.4 489.0 522.0C486.8 524.6 483.2 526.7 480.0 527.5C476.8 528.3 472.8 528.1 470.0 527.0C467.2 525.9 464.6 522.0 463.5 521.0"/>
<circle class="w" cx="459.8" cy="502.8" r="4.6"/>
<circle class="ln" cx="459.8" cy="502.8" r="1.9"/>
<circle class="w" cx="498.8" cy="492.2" r="5"/>
<circle class="ln" cx="498.8" cy="492.2" r="2"/>
<circle class="lt" cx="466" cy="520" r="1.5"/>
<circle class="lt" cx="490" cy="513" r="1.5"/>
<circle class="ln" cx="466" cy="536.5" r="1" style="fill:#333"/>
<path d="M465.5 492.6 L488 486" stroke="#222" stroke-width="5.2" stroke-linecap="round" fill="none"/><path d="M465.5 492.6 L488 486" stroke="#bbb" stroke-width="3.6" stroke-linecap="round" fill="none"/><path d="M467.332 493.938 L465.168 490.822" stroke="#222" stroke-width="0.9" fill="none"/><path d="M468.832 493.498 L466.668 490.382" stroke="#222" stroke-width="0.9" fill="none"/><path d="M470.332 493.058 L468.168 489.942" stroke="#222" stroke-width="0.9" fill="none"/><path d="M471.832 492.618 L469.668 489.502" stroke="#222" stroke-width="0.9" fill="none"/><path d="M473.332 492.178 L471.168 489.062" stroke="#222" stroke-width="0.9" fill="none"/><path d="M474.832 491.738 L472.668 488.622" stroke="#222" stroke-width="0.9" fill="none"/><path d="M476.332 491.298 L474.168 488.182" stroke="#222" stroke-width="0.9" fill="none"/><path d="M477.832 490.858 L475.668 487.742" stroke="#222" stroke-width="0.9" fill="none"/><path d="M479.332 490.418 L477.168 487.302" stroke="#222" stroke-width="0.9" fill="none"/><path d="M480.832 489.978 L478.668 486.862" stroke="#222" stroke-width="0.9" fill="none"/><path d="M482.332 489.538 L480.168 486.422" stroke="#222" stroke-width="0.9" fill="none"/><path d="M483.832 489.098 L481.668 485.982" stroke="#222" stroke-width="0.9" fill="none"/><path d="M485.332 488.658 L483.168 485.542" stroke="#222" stroke-width="0.9" fill="none"/><path d="M486.832 488.218 L484.668 485.102" stroke="#222" stroke-width="0.9" fill="none"/><path d="M488.332 487.778 L486.168 484.662" stroke="#222" stroke-width="0.9" fill="none"/>
<circle class="w" cx="464.3" cy="493" r="2.7"/>
<path d="M474 532.2 L495 525" stroke="#222" stroke-width="5.2" stroke-linecap="round" fill="none"/><path d="M474 532.2 L495 525" stroke="#bbb" stroke-width="3.6" stroke-linecap="round" fill="none"/><path d="M475.901 533.451 L473.599 530.435" stroke="#222" stroke-width="0.9" fill="none"/><path d="M477.401 532.937 L475.099 529.92" stroke="#222" stroke-width="0.9" fill="none"/><path d="M478.901 532.422 L476.599 529.406" stroke="#222" stroke-width="0.9" fill="none"/><path d="M480.401 531.908 L478.099 528.892" stroke="#222" stroke-width="0.9" fill="none"/><path d="M481.901 531.394 L479.599 528.378" stroke="#222" stroke-width="0.9" fill="none"/><path d="M483.401 530.88 L481.099 527.863" stroke="#222" stroke-width="0.9" fill="none"/><path d="M484.901 530.365 L482.599 527.349" stroke="#222" stroke-width="0.9" fill="none"/><path d="M486.401 529.851 L484.099 526.835" stroke="#222" stroke-width="0.9" fill="none"/><path d="M487.901 529.337 L485.599 526.32" stroke="#222" stroke-width="0.9" fill="none"/><path d="M489.401 528.822 L487.099 525.806" stroke="#222" stroke-width="0.9" fill="none"/><path d="M490.901 528.308 L488.599 525.292" stroke="#222" stroke-width="0.9" fill="none"/><path d="M492.401 527.794 L490.099 524.778" stroke="#222" stroke-width="0.9" fill="none"/><path d="M493.901 527.28 L491.599 524.263" stroke="#222" stroke-width="0.9" fill="none"/><path d="M495.401 526.765 L493.099 523.749" stroke="#222" stroke-width="0.9" fill="none"/>
<circle class="w" cx="472.6" cy="532.8" r="2.7"/>
<path class="w" d="M462.5 486 Q460 479 465 476.5 Q468 475 470 477 Q470.5 470.5 476 470 Q480.5 470 481.5 474.5 Q485.5 471 489.5 474 Q492 477 489.5 481 L487 484"/>
<path class="lt" d="M474 473.5 Q476 476 475 479 M478.5 474 Q481.5 474.5 481 478.5"/>
<path class="w" d="M500.5 466.5 L505.5 460.5 Q508.5 458.8 510.8 461 Q512.6 463.6 511 466.5 L508 471.5" style="stroke-width:1.3"/>
<circle class="ln" cx="506.8" cy="464.3" r="0.9"/>
<path class="w" d="M473.5 535.5 L487.5 531.5 L488.5 543.5 Q485 549.5 479 549 Q475 548 474 544 Z"/>
<circle class="ln" cx="482.4" cy="543.4" r="2.6"/>
<path class="lt" d="M474.3 537.0L477.5 536.2" style="stroke:#333"/>
<path class="lt" d="M474.3 539.0L477.5 538.2" style="stroke:#333"/>
<path class="lt" d="M474.3 541.0L477.5 540.2" style="stroke:#333"/>
<path class="lt" d="M474.3 543.0L477.5 542.2" style="stroke:#333"/>
<path class="lt" d="M489.5 531.5L492.8 549.0"/>
<path class="w" d="M530.2 429.8C530.8 431.5 533.2 436.6 534.0 440.0C534.8 443.4 535.2 446.7 535.2 450.0C535.2 453.3 534.8 456.3 534.0 460.0C533.2 463.7 532.5 467.7 530.6 472.0C528.8 476.3 524.2 483.5 522.9 485.8L535.0 490.7C536.1 488.2 540.1 480.4 541.8 476.0C543.5 471.6 544.5 467.7 545.3 464.0C546.1 460.3 546.5 457.3 546.6 454.0C546.7 450.7 546.5 447.1 545.8 444.0C545.1 440.9 543.0 436.8 542.4 435.4Z" style="stroke-width:1.8"/>
<path class="lt" d="M531.6 430.5C532.2 432.2 534.6 437.3 535.4 440.6C536.2 443.9 536.6 447.2 536.6 450.5C536.6 453.8 536.2 456.9 535.4 460.6C534.6 464.3 533.8 468.3 532.0 472.6C530.2 476.9 525.8 484.2 524.5 486.5"/>
<path d="M544 499.6 L565 504.2" stroke="#222" stroke-width="4.2" stroke-linecap="round" fill="none"/><path d="M544 499.6 L565 504.2" stroke="#bbb" stroke-width="2.6" stroke-linecap="round" fill="none"/><path d="M545.262 501.207 L544.647 498.411" stroke="#222" stroke-width="0.9" fill="none"/><path d="M547.172 501.626 L546.556 498.829" stroke="#222" stroke-width="0.9" fill="none"/><path d="M549.081 502.044 L548.465 499.247" stroke="#222" stroke-width="0.9" fill="none"/><path d="M550.99 502.462 L550.374 499.665" stroke="#222" stroke-width="0.9" fill="none"/><path d="M552.899 502.88 L552.283 500.084" stroke="#222" stroke-width="0.9" fill="none"/><path d="M554.808 503.298 L554.192 500.502" stroke="#222" stroke-width="0.9" fill="none"/><path d="M556.717 503.716 L556.101 500.92" stroke="#222" stroke-width="0.9" fill="none"/><path d="M558.626 504.135 L558.01 501.338" stroke="#222" stroke-width="0.9" fill="none"/><path d="M560.535 504.553 L559.919 501.756" stroke="#222" stroke-width="0.9" fill="none"/><path d="M562.444 504.971 L561.828 502.174" stroke="#222" stroke-width="0.9" fill="none"/><path d="M564.353 505.389 L563.738 502.593" stroke="#222" stroke-width="0.9" fill="none"/>
<path class="w" d="M564.5 501.2 L571 502.8 Q574.3 504.3 574 507.5 Q573.4 510.6 570 510.4 L563.6 508.6 Z"/>
<ellipse class="ln" cx="571.3" cy="506.6" rx="2.6" ry="3.7" transform="rotate(-10 571.3 506.6)"/>
<ellipse class="w" cx="525.5" cy="514.5" rx="7.2" ry="8.5" transform="rotate(-8 525.5 514.5)" style="stroke-width:1.2"/>
<ellipse class="w" cx="527.3" cy="514.3" rx="6.8" ry="8.2" transform="rotate(-8 527.3 514.3)" style="stroke-width:1.2"/>
<ellipse class="ln" cx="527.8" cy="514.3" rx="3" ry="3.7" transform="rotate(-8 527.8 514.3)"/>
<ellipse class="lt" cx="528.4" cy="514.3" rx="2.2" ry="3" transform="rotate(-8 528.4 514.3)"/>
<path class="w" d="M540.5 514 L551 516.6 Q554.2 518 554 521.4 Q553.5 525 550 524.8 L539.5 522 Q536.6 520.6 537 517.4 Q537.6 514.2 540.5 514 Z" style="stroke-width:1.2"/>
<ellipse class="ln" cx="539.8" cy="518" rx="2.6" ry="4" transform="rotate(-10 539.8 518)"/>
<path class="lt" d="M544.5 517.5L544.3 520.0"/>
<path class="lt" d="M548.6 518.6L548.4 521.0"/>
<ellipse class="w" cx="565.2" cy="525.8" rx="7.2" ry="8.2" transform="rotate(-8 565.2 525.8)" style="stroke-width:1.2"/>
<ellipse class="w" cx="567" cy="525.6" rx="6.8" ry="7.9" transform="rotate(-8 567 525.6)" style="stroke-width:1.2"/>
<ellipse class="ln" cx="567.5" cy="525.6" rx="3" ry="3.6" transform="rotate(-8 567.5 525.6)"/>
<ellipse class="lt" cx="568.1" cy="525.6" rx="2.2" ry="2.9" transform="rotate(-8 568.1 525.6)"/>
<path class="w" d="M576.0 540.0C575.8 535.7 576.5 531.0 577.5 527.0C578.5 523.0 580.2 519.4 582.0 516.0C583.8 512.6 586.0 509.2 588.0 506.5C590.0 503.8 591.5 502.0 594.0 500.0C596.5 498.0 600.0 495.8 603.0 494.5C606.0 493.2 609.0 492.4 612.0 492.0C615.0 491.6 618.0 491.6 621.0 491.8C624.0 492.0 626.8 492.3 630.0 493.0C633.2 493.7 636.7 494.8 640.0 496.0C643.3 497.2 647.0 498.7 650.0 500.5C653.0 502.3 655.7 504.8 658.0 507.0C660.3 509.2 662.1 511.3 664.0 514.0C665.9 516.7 668.0 520.0 669.5 523.0C671.0 526.0 672.1 529.0 673.0 532.0C673.9 535.0 674.7 538.0 675.0 541.0C675.3 544.0 675.2 547.0 675.0 550.0C674.8 553.0 674.3 556.0 673.5 559.0C672.7 562.0 671.4 565.1 670.0 568.0C668.6 570.9 667.0 573.8 665.0 576.5C663.0 579.2 660.5 581.8 658.0 584.0C655.5 586.2 652.7 588.1 650.0 589.5C647.3 590.9 644.7 591.6 642.0 592.3C639.3 593.0 636.7 593.4 634.0 593.6C631.3 593.8 629.0 593.8 626.0 593.4C623.0 593.0 619.3 592.2 616.0 591.0C612.7 589.8 609.1 587.8 606.0 586.0C602.9 584.2 600.2 582.3 597.5 580.0C594.8 577.7 592.2 574.8 590.0 572.0C587.8 569.2 585.8 566.2 584.0 563.0C582.2 559.8 580.3 556.8 579.0 553.0C577.7 549.2 576.2 544.3 576.0 540.0Z" style="stroke-width:1.5"/>
<path class="ln" d="M620.0 492.0C618.5 493.0 613.7 495.7 611.0 498.0C608.3 500.3 606.2 502.9 604.0 506.0C601.8 509.1 599.3 512.8 597.5 516.5C595.7 520.2 594.2 524.1 593.0 528.0C591.8 531.9 590.8 536.0 590.5 540.0C590.2 544.0 590.4 548.2 591.0 552.0C591.6 555.8 592.7 559.6 594.0 563.0C595.3 566.4 597.0 569.6 599.0 572.5C601.0 575.4 603.5 578.1 606.0 580.5C608.5 582.9 611.3 585.1 614.0 587.0C616.7 588.9 620.7 591.2 622.0 592.0"/>
<path class="lb" d="M636.0 505.0C634.5 505.8 630.0 507.7 627.0 509.5C624.0 511.3 620.8 513.4 618.0 516.0C615.2 518.6 612.7 521.8 610.5 525.0C608.3 528.2 606.5 531.7 605.0 535.0C603.5 538.3 602.1 541.7 601.6 545.0C601.1 548.3 601.2 551.7 601.8 555.0C602.4 558.3 603.5 561.8 605.0 565.0C606.5 568.2 608.3 571.2 610.5 574.0C612.7 576.8 615.2 579.6 618.0 582.0C620.8 584.4 624.0 586.8 627.0 588.5C630.0 590.2 634.5 591.4 636.0 592.0"/>
<path class="ln" d="M637.0 508.0C635.7 508.7 631.7 510.3 629.0 512.0C626.3 513.7 623.5 515.7 621.0 518.0C618.5 520.3 616.1 523.1 614.0 526.0C611.9 528.9 610.0 532.3 608.6 535.5C607.2 538.7 605.9 541.8 605.4 545.0C604.9 548.2 605.1 551.4 605.6 554.5C606.1 557.6 607.2 560.7 608.6 563.6C610.0 566.5 611.9 569.4 614.0 572.0C616.1 574.6 618.5 577.2 621.0 579.5C623.5 581.8 626.2 583.8 629.0 585.5C631.8 587.2 636.5 588.8 638.0 589.5"/>
<ellipse class="ln" cx="640" cy="546" rx="21" ry="25.2" transform="rotate(5 640 546)"/>
<ellipse class="ln" cx="641" cy="546" rx="11" ry="12.6" transform="rotate(5 641 546)"/>
<path class="lt" d="M637.5 534.6 Q632 540 632.5 547.5 Q633.5 555 639 558.3"/>
<circle class="lt" cx="656" cy="540" r="1.4"/>
<circle class="lt" cx="626" cy="555" r="1.4"/>
<path d="M645 512.2 L652.6 515.3" stroke="#222" stroke-width="5.8" stroke-linecap="round" fill="none"/><path d="M645 512.2 L652.6 515.3" stroke="#999" stroke-width="4.2" stroke-linecap="round" fill="none"/><path d="M645.396 514.629 L645.871 510.287" stroke="#222" stroke-width="0.9" fill="none"/><path d="M646.662 515.146 L647.138 510.804" stroke="#222" stroke-width="0.9" fill="none"/><path d="M647.929 515.663 L648.404 511.321" stroke="#222" stroke-width="0.9" fill="none"/><path d="M649.196 516.179 L649.671 511.837" stroke="#222" stroke-width="0.9" fill="none"/><path d="M650.462 516.696 L650.938 512.354" stroke="#222" stroke-width="0.9" fill="none"/><path d="M651.729 517.213 L652.204 512.871" stroke="#222" stroke-width="0.9" fill="none"/><ellipse class="w" cx="654.6" cy="516" rx="2.6" ry="3.2" transform="rotate(-10 654.6 516)"/>
<path d="M668.5 534.6 L676.5 537.7" stroke="#222" stroke-width="5.8" stroke-linecap="round" fill="none"/><path d="M668.5 534.6 L676.5 537.7" stroke="#999" stroke-width="4.2" stroke-linecap="round" fill="none"/><path d="M668.967 537.033 L669.366 532.683" stroke="#222" stroke-width="0.9" fill="none"/><path d="M670.301 537.55 L670.699 533.2" stroke="#222" stroke-width="0.9" fill="none"/><path d="M671.634 538.067 L672.033 533.717" stroke="#222" stroke-width="0.9" fill="none"/><path d="M672.967 538.583 L673.366 534.233" stroke="#222" stroke-width="0.9" fill="none"/><path d="M674.301 539.1 L674.699 534.75" stroke="#222" stroke-width="0.9" fill="none"/><path d="M675.634 539.617 L676.033 535.267" stroke="#222" stroke-width="0.9" fill="none"/><ellipse class="w" cx="678.5" cy="538.4" rx="2.6" ry="3.2" transform="rotate(-10 678.5 538.4)"/>
<path d="M615.6 557.4 L623 560.7" stroke="#222" stroke-width="5.8" stroke-linecap="round" fill="none"/><path d="M615.6 557.4 L623 560.7" stroke="#999" stroke-width="4.2" stroke-linecap="round" fill="none"/><path d="M615.909 559.837 L616.524 555.513" stroke="#222" stroke-width="0.9" fill="none"/><path d="M617.143 560.387 L617.757 556.063" stroke="#222" stroke-width="0.9" fill="none"/><path d="M618.376 560.937 L618.991 556.613" stroke="#222" stroke-width="0.9" fill="none"/><path d="M619.609 561.487 L620.224 557.163" stroke="#222" stroke-width="0.9" fill="none"/><path d="M620.843 562.037 L621.457 557.713" stroke="#222" stroke-width="0.9" fill="none"/><path d="M622.076 562.587 L622.691 558.263" stroke="#222" stroke-width="0.9" fill="none"/><ellipse class="w" cx="625" cy="561.4" rx="2.6" ry="3.2" transform="rotate(-10 625 561.4)"/>
<path d="M645 577.6 L652.8 580.7" stroke="#222" stroke-width="5.8" stroke-linecap="round" fill="none"/><path d="M645 577.6 L652.8 580.7" stroke="#999" stroke-width="4.2" stroke-linecap="round" fill="none"/><path d="M645.432 580.031 L645.868 575.685" stroke="#222" stroke-width="0.9" fill="none"/><path d="M646.732 580.548 L647.168 576.202" stroke="#222" stroke-width="0.9" fill="none"/><path d="M648.032 581.065 L648.468 576.719" stroke="#222" stroke-width="0.9" fill="none"/><path d="M649.332 581.581 L649.768 577.235" stroke="#222" stroke-width="0.9" fill="none"/><path d="M650.632 582.098 L651.068 577.752" stroke="#222" stroke-width="0.9" fill="none"/><path d="M651.932 582.615 L652.368 578.269" stroke="#222" stroke-width="0.9" fill="none"/><ellipse class="w" cx="654.8" cy="581.4" rx="2.6" ry="3.2" transform="rotate(-10 654.8 581.4)"/>
<path class="lt" d="M646.0 544.2L682.0 555.0" style="stroke:#aaa"/>
<ellipse class="w" cx="689.3" cy="558.2" rx="6.4" ry="7.6" transform="rotate(-8 689.3 558.2)" style="stroke-width:1.2"/>
<ellipse class="lt" cx="690.3" cy="558.2" rx="5.6" ry="6.8" transform="rotate(-8 690.3 558.2)"/>
<ellipse class="ln" cx="690.3" cy="558.4" rx="2.8" ry="3.4" transform="rotate(-8 690.3 558.4)"/>
<path class="w" d="M703.5 560.5 L707.5 556.2 L713.5 557 L717 562 L716 568.5 L711.5 571.6 L705.8 570.4 L703 565.5 Z" style="stroke-width:1.3"/>
<path class="lt" d="M706.5 561 L709.5 558.6 L713.6 559.6 L715 563.6 L713.6 567.6 L710 569 L707 567 Z"/>
<ellipse class="ln" cx="710.6" cy="564.2" rx="2.4" ry="3" transform="rotate(-8 710.6 564.2)"/>
<path d="M376.0 352.5C377.3 351.8 381.2 349.3 384.0 348.2C386.8 347.1 388.2 346.3 392.5 345.8C396.8 345.3 403.8 344.7 410.0 345.0C416.2 345.3 422.5 346.4 430.0 347.8C437.5 349.2 446.7 351.4 455.0 353.3C463.3 355.2 471.7 357.3 480.0 359.3C488.3 361.3 496.7 363.3 505.0 365.3C513.3 367.3 523.3 369.6 530.0 371.2C536.7 372.8 540.3 373.9 545.0 374.8C549.7 375.7 553.8 376.4 558.0 376.6C562.2 376.9 566.0 376.8 570.0 376.3C574.0 375.8 577.7 375.0 582.0 373.6C586.3 372.2 591.3 370.1 596.0 368.0C600.7 365.9 605.6 363.2 610.0 361.0C614.4 358.8 619.2 356.6 622.5 355.0C625.8 353.4 628.8 351.9 630.0 351.3" fill="none" stroke="#333" stroke-width="3"/>
<path d="M376.0 352.5C377.3 351.8 381.2 349.3 384.0 348.2C386.8 347.1 388.2 346.3 392.5 345.8C396.8 345.3 403.8 344.7 410.0 345.0C416.2 345.3 422.5 346.4 430.0 347.8C437.5 349.2 446.7 351.4 455.0 353.3C463.3 355.2 471.7 357.3 480.0 359.3C488.3 361.3 496.7 363.3 505.0 365.3C513.3 367.3 523.3 369.6 530.0 371.2C536.7 372.8 540.3 373.9 545.0 374.8C549.7 375.7 553.8 376.4 558.0 376.6C562.2 376.9 566.0 376.8 570.0 376.3C574.0 375.8 577.7 375.0 582.0 373.6C586.3 372.2 591.3 370.1 596.0 368.0C600.7 365.9 605.6 363.2 610.0 361.0C614.4 358.8 619.2 356.6 622.5 355.0C625.8 353.4 628.8 351.9 630.0 351.3" fill="none" stroke="#fff" stroke-width="1.2"/>
<path class="lt" d="M341.0 369.2L370.5 355.3" style="stroke:#333;stroke-width:0.8"/>
<path class="w" d="M334.3 370.2 L340 367.5 L341.6 370.6 L336 373.4 Z" style="stroke-width:0.9"/>
<path class="w" d="M370 353.2 L374.5 350.8 L377 354.6 L372.3 357.2 Z" style="stroke-width:1.1"/>
<path class="w" d="M628.5 349.5 L638 345.2 L640 349.4 L630.5 353.8 Z" style="stroke-width:1"/>
<path class="w" d="M638.5 344.6 L641 343.4 L643.4 348 L640.6 349.3 Z" style="stroke-width:1"/>
<path class="w" d="M641.5 344.2 L645.5 344.6 L648 342 L650.5 345.8 L648.5 347.6 L644.5 347.4 Z" style="stroke-width:1"/>
<path class="lt" d="M650.0 344.0L663.0 338.0" style="stroke:#333;stroke-width:0.8"/>
<path class="w" d="M662.5 336.2 L670 332.8 Q672.5 333.3 672 336 L664.5 339.6 Q662.3 339 662.5 336.2 Z" style="stroke-width:1.1"/>
<path class="lt" d="M665.0 337.3L669.5 335.2"/>
<path class="lt" d="M671.5 334.6L683.0 329.2" style="stroke:#333;stroke-width:0.8"/>
<path class="w" d="M682.3 327.6 L687.5 325.2 Q690 326 689.5 329 L684.5 331.4 Q682 330.6 682.3 327.6 Z" style="stroke-width:1"/>
<path class="ld" d="M521.0 404.5L516.0 404.5L482.0 468.0"/>
<path class="ld" d="M576.5 422.0L544.8 436.3"/>
<path class="ld" d="M570.0 461.0L544.0 520.0"/>
<path class="ld" d="M491.0 535.0L495.0 567.5"/>
<path class="ld" d="M505.0 604.5L514.5 604.5L526.5 523.5"/>
<path class="ld" d="M514.5 604.5L565.0 534.0"/>
<path class="ld" d="M346.0 550.0L354.5 550.0L384.0 497.5"/>
<path class="ld" d="M346.0 575.0L355.0 575.0L408.5 541.0"/>
<path class="ld" d="M370.0 603.8L379.0 603.8L458.5 546.0"/>
<ellipse cx="672.4" cy="434.8" rx="35.2" ry="11.8" fill="none" stroke="#bb2d72" stroke-width="3.7" transform="rotate(-1.5 672.4 434.8)"/>
<path d="M650.5 445.5 L629.8 499" fill="none" stroke="#bb2d72" stroke-width="3.4"/>
<path d="M621.8 495 L628.6 498.6 L636.6 500.6 L624.4 511.8 Z" fill="#bb2d72" stroke="#bb2d72" stroke-width="1" stroke-linejoin="round"/>
</g>

<!-- WATERMARK -->
<g id="wm" fill="none" stroke="#14142a" stroke-opacity="0.085">
<circle cx="405" cy="363" r="80.4" stroke-width="18.6"/>
<path d="M440.2 344.4 A36.5 36.5 0 1 0 440.2 378.6" stroke-width="26"/>
</g>
<text x="165" y="529" font-size="39" fill="#14142a" fill-opacity="0.08">COPYRIGHT</text>
<text x="420" y="520" font-size="40" font-weight="bold" font-style="italic" fill="#14142a" fill-opacity="0.05" textLength="200" lengthAdjust="spacingAndGlyphs">PRO VSP</text>

<!-- LABELS -->
<g id="labels">
<text class="k" x="452.3" y="165.2" style="font-size:11.2px;fill:#3a3a3a">01.38.005</text>
<path class="ld" d="M508 168.5H442.5L261.5 375.5"/>
<text class="m" x="561" y="321.3">01.26.151</text>
<path class="ld" stroke-dasharray="1.5 1" d="M620 324H554"/>
<path class="ld" d="M554 324L528.5 370.5"/>
<text class="m" x="164" y="582.5">01.26.098</text>
<path class="ld" d="M164 584.5H230L246 469"/>

<text class="k" x="526.3" y="400.5">01.14.81</text>
<text class="r" x="526.3" y="412">01.17.329</text>
<text class="k" x="579.3" y="421.3">01.14.67</text>
<text class="r" x="579.3" y="432.7">01.17.308</text>
<text class="k" x="570.5" y="452.5">01.14.22</text>
<text class="r" x="570.5" y="464.2">01.17.324</text>
<text class="k" x="648.8" y="427" fill-opacity="0.55">01.16.005</text>
<text class="r" x="648.8" y="438.3">01.17.309</text>
<text class="r" x="723.5" y="565.3">01.17.327</text>

<text class="k" x="343.5" y="545.8" text-anchor="end">01.14.19</text>
<text class="r" x="343.5" y="557.5" text-anchor="end">01.17.328</text>
<text class="k" x="343.8" y="575.5" text-anchor="end">01.14.67</text>
<text class="r" x="343.8" y="587" text-anchor="end">01.17.308</text>
<text class="k" x="366.3" y="605" text-anchor="end">01.14.17G</text>
<text class="k" x="366.3" y="617" text-anchor="end">01.14.17D</text>
<text class="r" x="366.3" y="629" text-anchor="end">01.17.325 G</text>
<text class="r" x="366.3" y="640.5" text-anchor="end">01.17.326 D</text>

<text class="r" x="454.5" y="580.8">01.17.330</text>
<text class="k" x="463" y="603">01.14.18</text>
<text class="r" x="463" y="614.5">01.14.18</text>

<text class="k" x="284.5" y="668.3">Fournisseur</text>
<text class="k" x="284.5" y="680">CORAM</text>
<text class="r" x="354.5" y="668.3">Fournisseur</text>
<text class="r" x="354.5" y="680">GIMEC</text>
<text class="k" x="585.8" y="668.8">Ensemble</text>
<text class="k" x="585.8" y="679.6">complet</text>
<text class="k" x="646" y="668.5">01.16.109 D</text>
<text class="k" x="646" y="680">01.16.110 G</text>
<text class="r" x="719" y="668.5">01.26.217 D</text>
<text class="r" x="719" y="680">01.26.218 G</text>

<path class="dot" d="M512.5 385H775V652.5H284.5V494"/>
</g>

<!-- BANNER -->
<g id="banner">
<g transform="rotate(-45)">
<rect x="-330" y="253.3" width="660" height="56" fill="#23afde" fill-opacity="0.44"/>
<g fill="none" stroke="#fff" stroke-opacity="0.94" stroke-width="5.9" stroke-linejoin="round" stroke-linecap="butt">
<path transform="translate(-167.9 279.3)" d="M-6.65 18.25 L-6.65 -5.15 Q-6.65 -6.75 -5.05 -6.75 L5.05 -6.75 Q6.65 -6.75 6.65 -5.15 L6.65 5.15 Q6.65 6.75 5.05 6.75 L-6.65 6.75"/>
<path transform="translate(-144.2 279.3)" d="M-6.65 9.35 L-6.65 -5.15 Q-6.65 -6.75 -5.05 -6.75 L7.65 -6.75"/>
<path transform="translate(-123.2 279.3)" d="M-5.05 -6.75 L5.05 -6.75 Q6.65 -6.75 6.65 -5.15 L6.65 5.15 Q6.65 6.75 5.05 6.75 L-5.05 6.75 Q-6.65 6.75 -6.65 5.15 L-6.65 -5.15 Q-6.65 -6.75 -5.05 -6.75 Z"/>
<path transform="translate(-99.5 279.3)" d="M-8.3 0.5 L8.3 0.5"/>
<path transform="translate(-76.5 279.3)" d="M-6.65 18.25 L-6.65 -5.15 Q-6.65 -6.75 -5.05 -6.75 L5.05 -6.75 Q6.65 -6.75 6.65 -5.15 L6.65 5.15 Q6.65 6.75 5.05 6.75 L-6.65 6.75"/>
<path transform="translate(-58.8 279.3)" d="M0 9.35 L0 -9.35 M0 -13.25 L0 -18.25"/>
<path stroke-width="5.1" transform="translate(-40.5 279.3) scale(1.06 1.06)" d="M7.65 6.75 L-5.05 6.75 Q-6.65 6.75 -6.65 5.15 L-6.65 -5.15 Q-6.65 -6.75 -5.05 -6.75 L5.05 -6.75 Q6.65 -6.75 6.65 -5.15 L6.65 0.3 L-6.65 0.3"/>
<path transform="translate(-19.4 279.3)" d="M7.65 -6.75 L-5.05 -6.75 Q-6.65 -6.75 -6.65 -5.15 L-6.65 5.15 Q-6.65 6.75 -5.05 6.75 L7.65 6.75"/>
<path stroke-width="5.1" transform="translate(3.5 279.3) scale(1.06 1.06)" d="M7.65 6.75 L-5.05 6.75 Q-6.65 6.75 -6.65 5.15 L-6.65 -5.15 Q-6.65 -6.75 -5.05 -6.75 L5.05 -6.75 Q6.65 -6.75 6.65 -5.15 L6.65 0.3 L-6.65 0.3"/>
<path transform="translate(25.6 279.3)" d="M-8.3 0.5 L8.3 0.5"/>
<path transform="translate(52.1 279.3)" d="M-10.25 -9.65 L0 7.55 L10.25 -9.65"/>
<path stroke-width="5.1" transform="translate(79.6 279.3) scale(1.06 1.06)" d="M7.65 -6.75 L-5.05 -6.75 Q-6.65 -6.75 -6.65 -5.15 L-6.65 -1.6 Q-6.65 0 -5.05 0 L5.05 0 Q6.65 0 6.65 1.6 L6.65 5.15 Q6.65 6.75 5.05 6.75 L-7.65 6.75"/>
<path transform="translate(104.1 279.3)" d="M-6.65 18.25 L-6.65 -5.15 Q-6.65 -6.75 -5.05 -6.75 L5.05 -6.75 Q6.65 -6.75 6.65 -5.15 L6.65 5.15 Q6.65 6.75 5.05 6.75 L-6.65 6.75"/>
<path transform="translate(121.1 279.3)" d="M0 4.15 L0 9.35"/>
<path transform="translate(137.9 279.3)" d="M7.65 -6.75 L-5.05 -6.75 Q-6.65 -6.75 -6.65 -5.15 L-6.65 5.15 Q-6.65 6.75 -5.05 6.75 L7.65 6.75"/>
<path transform="translate(162.8 279.3)" d="M-5.05 -6.75 L5.05 -6.75 Q6.65 -6.75 6.65 -5.15 L6.65 5.15 Q6.65 6.75 5.05 6.75 L-5.05 6.75 Q-6.65 6.75 -6.65 5.15 L-6.65 -5.15 Q-6.65 -6.75 -5.05 -6.75 Z"/>
<path transform="translate(192.9 279.3)" d="M-12.4 9.35 L-12.4 -5.15 Q-12.4 -6.75 -10.8 -6.75 L10.8 -6.75 Q12.4 -6.75 12.4 -5.15 L12.4 9.35 M0 -6.75 L0 9.35"/>
</g></g>
</g>

<!-- LOGO -->
<g id="logo">
<g fill="none" stroke="#3a3e5b" stroke-width="1.9" stroke-linecap="round" stroke-linejoin="round">
<path d="M662 603 Q692 599.6 723 602 L727.3 615 Q727.6 619 725 620.4 M657.5 621.2 L727 620.4 M662 603 L657.5 621.2"/>
<path d="M644.6 625.4 Q640 619.5 633.5 619.8 Q630.5 616 635 614.6 Q642.5 613.2 644.6 616.8 Q646.4 621 644.6 625.4"/>
<path d="M740.4 625.4 Q745 619.5 751.5 619.8 Q754.5 616 750 614.6 Q742.5 613.2 740.4 616.8 Q738.6 621 740.4 625.4"/>
<path d="M645 625 Q640 634 639.2 645 Q638.8 656 641.2 664.5"/>
<path d="M740 625 Q745 634 745.8 645 Q746.2 656 743.8 664"/>
<path d="M649 624 Q660 630 668.5 639.5"/>
<path d="M736 624 Q725 630 716.5 639.5"/>
<path d="M645.3 633 Q656 638 666.5 646 Q665 649.4 660.5 648.4 Q650.5 646.4 646.8 643 Q644.6 638 645.3 633Z"/>
<path d="M739.7 633 Q729 638 718.5 646 Q720 649.4 724.5 648.4 Q734.5 646.4 738.2 643 Q740.4 638 739.7 633Z"/>
<path d="M643 649 Q668 655.2 693 655.4 Q718 655.2 742.5 649"/>
<path d="M645 657.5 Q669 662.4 693 662.6 Q717 662.4 740.5 657.5"/>
<path d="M648 657 Q655 660.5 664.5 662 M737.5 657 Q731 660.5 721.5 662"/>
</g>
<path d="M649 623 L657.6 598 Q658.6 595.6 661.5 595.4 Q692 593.2 722 595 Q725.6 595.4 726.6 598 L735.2 623" fill="none" stroke="#d63d80" stroke-width="2.1" stroke-linejoin="round" stroke-linecap="round"/>
<g transform="translate(627 722) skewX(-10.5)" fill="none" stroke="#3a3e5b" stroke-width="9.4" stroke-linejoin="round">
<path d="M4.7 0 L4.7 -39.5 Q4.7 -42.3 7.5 -42.3 L32 -42.3 Q39 -42.3 39 -36 L39 -29 Q39 -22.8 32 -22.8 L8 -22.8"/>
<path d="M57.5 0 L57.5 -24.5 Q57.5 -31.3 64.5 -31.3 L75 -31.3"/>
<path d="M93.5 -31.3 L102.5 -31.3 Q109 -31.3 109 -25 L109 -11 Q109 -4.7 102.5 -4.7 L93.5 -4.7 Q87 -4.7 87 -11 L87 -25 Q87 -31.3 93.5 -31.3Z"/>
</g>
<path d="M623.6 727.5 L634.4 727.5 L648.2 757.5 L665.6 727.5 L676.6 727.5 L652.6 767.5 L641.2 767.5 Z" fill="#62c5e8"/>
<g transform="translate(619.6 767.5) skewX(-10.5)" fill="none" stroke="#62c5e8" stroke-width="9.6" stroke-linejoin="round">
<path d="M88.5 -35.5 L64.5 -35.5 Q57.5 -35.5 57.5 -29.5 L57.5 -26 Q57.5 -20 64.5 -20 L79 -20 Q86 -20 86 -14 L86 -10.5 Q86 -4.5 79 -4.5 L52 -4.5"/>
<path d="M98 0 L98 -35.5 L122.5 -35.5 Q129 -35.5 129 -29.5 L129 -23 Q129 -17 122.5 -17 L101 -17"/>
</g>
<polygon points="758.7,692.8 750.3,698.1 741.6,693.4 741.3,683.6 749.7,678.3 758.4,683.0" fill="#d63d80" stroke="#fff" stroke-width="0.8" stroke-linejoin="round"/>
<circle cx="750" cy="688.2" r="4.9" fill="#fff"/>
<path d="M746.2 687.8 L748.6 691.4" stroke="#444" stroke-width="1" fill="none"/>
<text x="692.3" y="682.6" font-size="6.6" font-weight="bold" font-style="italic" fill="#d63d80" textLength="26.5" lengthAdjust="spacingAndGlyphs">GROUP</text>
<path d="M682.5 680 L691 680 M720.5 679.5 L735 679.5" stroke="#d63d80" stroke-width="1" fill="none"/>
</g>
</svg>
</body>
</html>
